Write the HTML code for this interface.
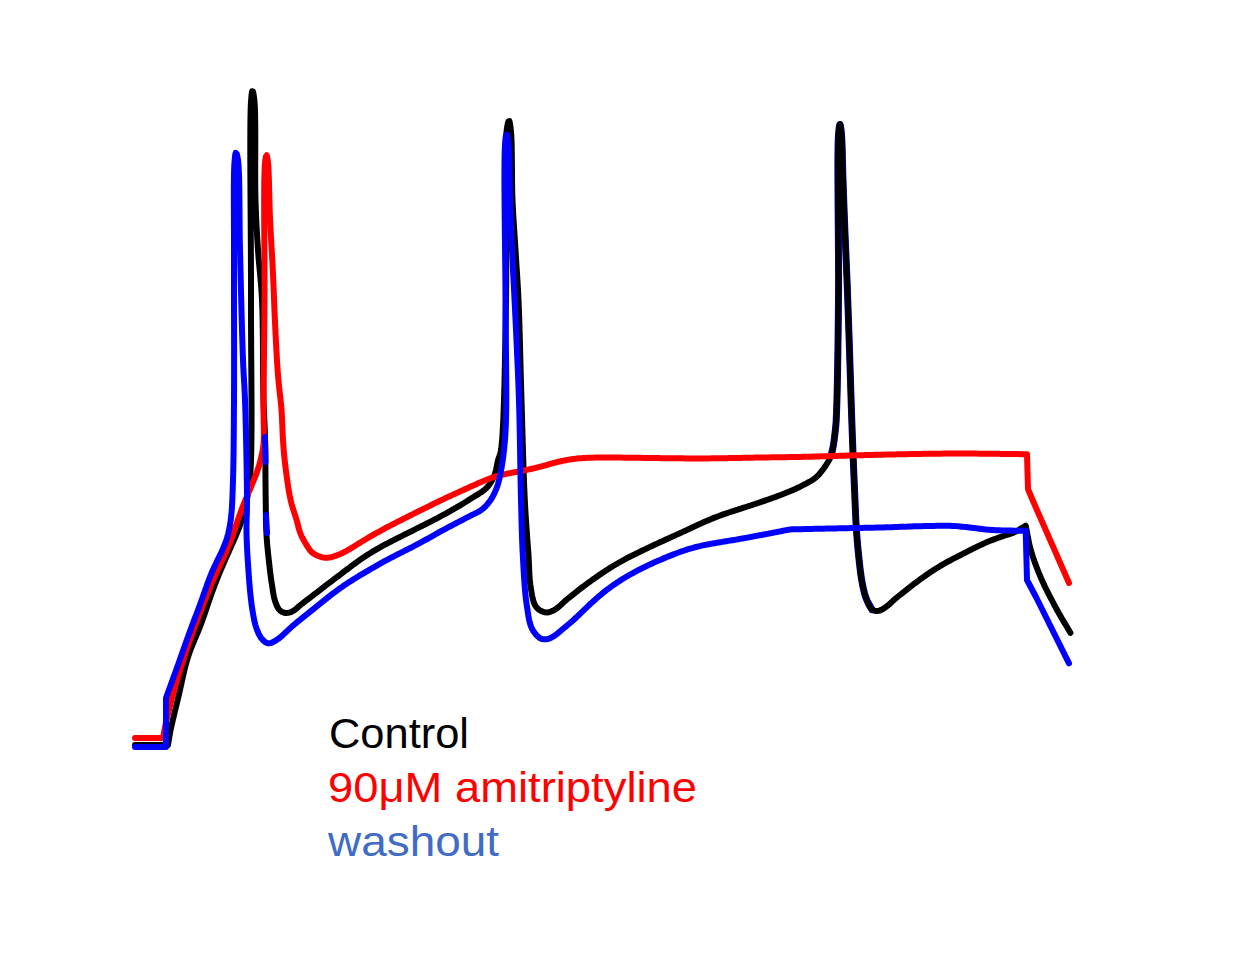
<!DOCTYPE html>
<html><head><meta charset="utf-8">
<style>
html,body{margin:0;padding:0;background:#fff;width:1260px;height:980px;overflow:hidden}
svg{position:absolute;left:0;top:0}
text{font-family:"Liberation Sans",sans-serif}
</style></head>
<body>
<svg width="1260" height="980" viewBox="0 0 1260 980">
<g fill="none" stroke-width="6" stroke-linejoin="round" stroke-linecap="round">
<path stroke="#00f" stroke-width="7" d="M831,456 L831.44,454.05 L831.89,452.1 L832.34,450.15 L832.77,448.2 L833.18,446.24 L833.54,444.28 L833.86,442.3 L834.14,440.32 L834.39,438.34 L834.62,436.35 L834.85,434.36 L835.07,432.38 L835.3,430.39 L835.53,428.4 L835.73,426.41 L835.91,424.42 L836.05,422.43 L836.18,420.43 L836.28,418.44 L836.38,416.44 L836.46,414.44 L836.54,412.44 L836.62,410.44 L836.68,408.45 L836.75,406.45 L836.81,404.45 L836.87,402.45 L836.93,400.45 L836.98,398.45 L837.03,396.45 L837.08,394.45 L837.13,392.45 L837.18,390.45 L837.22,388.46 L837.27,386.46 L837.31,384.46 L837.35,382.46 L837.39,380.46 L837.43,378.46 L837.47,376.46 L837.51,374.46 L837.54,372.46 L837.58,370.46 L837.61,368.46 L837.65,366.46 L837.68,364.46 L837.71,362.46 L837.75,360.46 L837.78,358.47 L837.81,356.47 L837.84,354.47 L837.87,352.47 L837.9,350.47 L837.93,348.47 L837.96,346.47 L837.98,344.47 L838.01,342.47 L838.04,340.47 L838.07,338.47 L838.09,336.47 L838.12,334.47 L838.14,332.47 L838.17,330.47 L838.19,328.47 L838.22,326.47 L838.24,324.47 L838.26,322.47 L838.29,320.47 L838.31,318.48 L838.33,316.48 L838.35,314.48 L838.37,312.48 L838.39,310.48 L838.42,308.48 L838.44,306.48 L838.46,304.48 L838.48,302.48 L838.5,300.48 L838.51,298.48 L838.53,296.48 L838.54,294.48 L838.55,292.48 L838.56,290.48 L838.57,288.48 L838.57,286.48 L838.57,284.48 L838.58,282.48 L838.58,280.48 L838.57,278.48 L838.57,276.48 L838.57,274.48 L838.56,272.48 L838.56,270.48 L838.55,268.48 L838.54,266.48 L838.53,264.48 L838.52,262.49 L838.51,260.49 L838.5,258.49 L838.49,256.49 L838.47,254.49 L838.46,252.49 L838.45,250.49 L838.43,248.49 L838.42,246.49 L838.4,244.49 L838.39,242.49 L838.37,240.49 L838.36,238.49 L838.34,236.49 L838.32,234.49 L838.31,232.49 L838.29,230.49 L838.27,228.49 L838.26,226.49 L838.24,224.49 L838.22,222.49 L838.21,220.49 L838.19,218.49 L838.17,216.49 L838.16,214.49 L838.14,212.49 L838.12,210.49 L838.11,208.49 L838.09,206.5 L838.07,204.5 L838.06,202.5 L838.04,200.5 L838.03,198.5 L838.01,196.5 L838.0,194.5 L837.99,192.5 L837.97,190.5 L837.96,188.5 L837.95,186.5 L837.94,184.5 L837.93,182.5 L837.92,180.5 L837.92,178.5 L837.91,176.5 L837.9,174.5 L837.9,172.5 L837.9,170.5 L837.9,168.5 L837.9,166.5 L837.9,164.5 L837.91,162.5 L837.91,160.5 L837.92,158.5 L837.94,156.5 L837.95,154.5 L837.97,152.5 L838.0,150.5 L838.03,148.51 L838.07,146.51 L838.11,144.51 L838.16,142.51 L838.23,140.51 L838.3,138.51 L838.4,136.51 L838.54,134.52 L838.69,132.53 L838.88,130.53 L839.1,128.55 L839.37,126.57 L839.85,124.63 L840.52,126.18 L840.81,128.16 L841.03,130.15 L841.24,132.14 L841.42,134.13 L841.59,136.12 L841.73,138.12 L841.84,140.11 L841.94,142.11 L842.02,144.11 L842.1,146.11 L842.16,148.11 L842.23,150.1 L842.28,152.1 L842.33,154.1 L842.38,156.1 L842.43,158.1 L842.48,160.1 L842.52,162.1 L842.57,164.1 L842.61,166.1 L842.66,168.1 L842.71,170.1 L842.76,172.09 L842.81,174.09 L842.87,176.09 L842.94,178.09 L843.0,180.09 L843.07,182.09 L843.15,184.09 L843.22,186.09 L843.29,188.08 L843.36,190.08 L843.44,192.08 L843.51,194.08 L843.58,196.08 L843.66,198.08 L843.73,200.07 L843.8,202.07 L843.88,204.07 L843.95,206.07 L844.03,208.07 L844.11,210.06 L844.18,212.06 L844.26,214.06 L844.33,216.06 L844.41,218.06 L844.49,220.06 L844.57,222.05 L844.65,224.05 L844.72,226.05 L844.8,228.05 L844.88,230.05 L844.96,232.04 L845.04,234.04 L845.12,236.04 L845.21,238.04 L845.29,240.04 L845.38,242.03 L845.46,244.03 L845.55,246.03 L845.63,248.03 L845.72,250.03 L845.81,252.02 L845.9,254.02 L845.99,256.02 L846.08,258.02 L846.16,260.01 L846.25,262.01 L846.34,264.01 L846.42,266.01 L846.51,268.01 L846.59,270.0 L846.68,272.0 L846.76,274.0 L846.84,276.0 L846.92,278.0 L847.0,279.99 L847.08,281.99 L847.15,283.99 L847.23,285.99 L847.31,287.99 L847.38,289.99 L847.46,291.98 L847.53,293.98 L847.61,295.98 L847.68,297.98 L847.75,299.98 L847.83,301.98 L847.9,303.97 L847.97,305.97 L848.04,307.97 L848.11,309.97 L848.18,311.97 L848.25,313.97 L848.33,315.96 L848.4,317.96 L848.47,319.96 L848.54,321.96 L848.61,323.96 L848.68,325.96 L848.74,327.96 L848.81,329.95 L848.88,331.95 L848.95,333.95 L849.02,335.95 L849.09,337.95 L849.16,339.95 L849.23,341.94 L849.29,343.94 L849.36,345.94 L849.43,347.94 L849.5,349.94 L849.57,351.94 L849.63,353.94 L849.7,355.93 L849.76,357.93 L849.83,359.93 L849.89,361.93 L849.96,363.93 L850.02,365.93 L850.09,367.93 L850.15,369.93 L850.21,371.92 L850.28,373.92 L850.34,375.92 L850.4,377.92 L850.46,379.92 L850.53,381.92 L850.59,383.92 L850.65,385.91 L850.72,387.91 L850.78,389.91 L850.84,391.91 L850.9,393.91 L850.97,395.91 L851.03,397.91 L851.1,399.91 L851.16,401.9 L851.23,403.9 L851.29,405.9 L851.36,407.9 L851.43,409.9 L851.5,411.9 L851.57,413.9 L851.64,415.89 L851.71,417.89 L851.78,419.89 L851.85,421.89 L851.92,423.89 L851.99,425.89 L852.06,427.88 L852.13,429.88 L852.21,431.88 L852.28,433.88 L852.36,435.88 L852.43,437.88 L852.51,439.87 L852.58,441.87 L852.66,443.87 L852.73,445.87 L852.81,447.87 L852.89,449.87 L852.97,451.86 L853.05,453.86 L853.12,455.86 L853.2,457.86 L853.28,459.86 L853.36,461.85 L853.45,463.85 L853.53,465.85 L853.61,467.85 L853.69,469.85 L853.77,471.84 L853.86,473.84 L853.94,475.84 L854.02,477.84 L854.11,479.84 L854.19,481.83 L854.28,483.83 L854.37,485.83 L854.45,487.83 L854.54,489.83 L854.63,491.82 L854.71,493.82 L854.8,495.82 L854.88,497.82 L854.97,499.81 L855.05,501.81 L855.13,503.81 L855.21,505.81 L855.29,507.81 L855.38,509.8 L855.46,511.8 L855.55,513.8 L855.64,515.8 L855.73,517.8 L855.83,519.79 L855.94,521.79 L856.05,523.79 L856.17,525.78 L856.3,527.78 L856.43,529.77 L856.57,531.77 L856.71,533.76 L856.86,535.76 L857.01,537.75 L857.17,539.74 L857.33,541.74 L857.5,543.73 L857.68,545.72 L857.86,547.71 L858.04,549.7 L858.23,551.7 L858.43,553.69 L858.64,555.67 L858.85,557.66 L859.06,559.65 L859.28,561.64 L859.5,563.63 L859.72,565.61 L859.95,567.6 L860.19,569.59 L860.44,571.57 L860.7,573.55 L860.98,575.53 L861.28,577.51 L861.6,579.48 L861.95,581.45 L862.32,583.42 L862.7,585.38 L863.1,587.34 L863.52,589.3 L863.97,591.24 L864.47,593.18 L865.02,595.1 L865.64,597.0 L866.34,598.88 L867.15,600.7 L868.04,602.49 L869.0,604.25 L869.98,605.99 L870.96,607.74 L871.9,609.5 L871.9,609.5"/>
<path stroke="#000" d="M135,745 L168,745 L168.33,742.98 L168.67,740.89 L169.01,738.79 L169.35,736.7 L169.7,734.65 L170.06,732.65 L170.44,730.69 L170.83,728.77 L171.25,726.87 L171.67,724.99 L172.11,723.11 L172.55,721.23 L172.99,719.34 L173.44,717.44 L173.89,715.54 L174.35,713.62 L174.81,711.69 L175.28,709.76 L175.75,707.83 L176.23,705.89 L176.7,703.96 L177.17,702.01 L177.63,700.07 L178.1,698.13 L178.55,696.18 L179.0,694.24 L179.45,692.29 L179.89,690.34 L180.32,688.39 L180.75,686.44 L181.18,684.49 L181.6,682.53 L182.03,680.58 L182.45,678.63 L182.88,676.68 L183.32,674.73 L183.77,672.78 L184.22,670.84 L184.69,668.9 L185.17,666.96 L185.67,665.04 L186.19,663.11 L186.73,661.2 L187.3,659.29 L187.88,657.39 L188.5,655.5 L189.13,653.62 L189.8,651.74 L190.48,649.88 L191.19,648.02 L191.92,646.17 L192.67,644.33 L193.43,642.49 L194.2,640.65 L194.97,638.82 L195.75,636.99 L196.53,635.16 L197.3,633.32 L198.07,631.48 L198.82,629.64 L199.56,627.79 L200.28,625.93 L201.0,624.07 L201.69,622.2 L202.37,620.33 L203.04,618.45 L203.7,616.57 L204.35,614.68 L204.99,612.79 L205.63,610.9 L206.26,609.0 L206.9,607.11 L207.53,605.21 L208.17,603.32 L208.81,601.43 L209.46,599.53 L210.11,597.65 L210.77,595.76 L211.44,593.88 L212.12,592.0 L212.81,590.12 L213.51,588.25 L214.21,586.38 L214.93,584.51 L215.65,582.65 L216.38,580.79 L217.12,578.93 L217.86,577.07 L218.61,575.22 L219.37,573.37 L220.14,571.53 L220.91,569.68 L221.69,567.84 L222.48,566.0 L223.27,564.17 L224.06,562.33 L224.86,560.5 L225.66,558.67 L226.47,556.84 L227.28,555.01 L228.1,553.19 L228.91,551.36 L229.73,549.54 L230.55,547.71 L231.36,545.89 L232.18,544.06 L232.99,542.24 L233.79,540.41 L234.59,538.58 L235.38,536.75 L236.16,534.91 L236.92,533.07 L237.67,531.22 L238.39,529.37 L239.1,527.51 L239.79,525.64 L240.45,523.76 L241.09,521.88 L241.71,519.99 L242.3,518.09 L242.87,516.18 L243.42,514.26 L243.94,512.34 L244.44,510.41 L244.92,508.48 L245.38,506.54 L245.83,504.6 L246.25,502.65 L246.66,500.7 L247.04,498.74 L247.41,496.78 L247.76,494.81 L248.09,492.85 L248.4,490.88 L248.69,488.9 L248.96,486.93 L249.22,484.95 L249.45,482.97 L249.66,480.99 L249.86,479.0 L250.04,477.01 L250.2,475.02 L250.35,473.03 L250.48,471.04 L250.6,469.05 L250.7,467.05 L250.8,465.06 L250.89,463.06 L250.96,461.06 L251.03,459.06 L251.09,457.07 L251.15,455.07 L251.2,453.07 L251.25,451.07 L251.29,449.07 L251.32,447.07 L251.35,445.07 L251.38,443.07 L251.41,441.07 L251.43,439.07 L251.45,437.07 L251.47,435.07 L251.48,433.07 L251.49,431.08 L251.51,429.08 L251.52,427.08 L251.53,425.08 L251.53,423.08 L251.54,421.08 L251.54,419.08 L251.55,417.08 L251.55,415.08 L251.55,413.08 L251.55,411.08 L251.55,409.08 L251.54,407.08 L251.54,405.08 L251.53,403.08 L251.52,401.08 L251.51,399.08 L251.5,397.08 L251.49,395.08 L251.48,393.08 L251.47,391.08 L251.46,389.08 L251.44,387.08 L251.43,385.08 L251.42,383.08 L251.41,381.08 L251.39,379.08 L251.38,377.08 L251.36,375.08 L251.35,373.08 L251.33,371.08 L251.32,369.08 L251.3,367.08 L251.29,365.08 L251.27,363.08 L251.26,361.08 L251.25,359.08 L251.23,357.08 L251.22,355.08 L251.2,353.08 L251.19,351.08 L251.17,349.09 L251.16,347.09 L251.14,345.09 L251.13,343.09 L251.12,341.09 L251.11,339.09 L251.09,337.09 L251.08,335.09 L251.07,333.09 L251.06,331.09 L251.05,329.09 L251.04,327.09 L251.03,325.09 L251.02,323.09 L251.01,321.09 L251.01,319.09 L251.0,317.09 L251.0,315.09 L250.99,313.09 L250.99,311.09 L250.99,309.09 L250.99,307.09 L250.99,305.09 L250.99,303.09 L251.0,301.09 L251.0,299.09 L251.01,297.09 L251.01,295.09 L251.01,293.09 L251.01,291.09 L251.01,289.09 L251.01,287.09 L251.01,285.09 L251.01,283.09 L251.0,281.09 L251.0,279.09 L250.99,277.09 L250.99,275.09 L250.98,273.09 L250.97,271.09 L250.96,269.09 L250.96,267.09 L250.95,265.09 L250.94,263.09 L250.93,261.09 L250.92,259.09 L250.91,257.1 L250.9,255.1 L250.89,253.1 L250.88,251.1 L250.86,249.1 L250.85,247.1 L250.84,245.1 L250.83,243.1 L250.81,241.1 L250.8,239.1 L250.79,237.1 L250.77,235.1 L250.76,233.1 L250.75,231.1 L250.73,229.1 L250.72,227.1 L250.71,225.1 L250.69,223.1 L250.68,221.1 L250.66,219.1 L250.65,217.1 L250.64,215.1 L250.62,213.1 L250.61,211.1 L250.59,209.1 L250.58,207.1 L250.57,205.1 L250.55,203.1 L250.54,201.1 L250.52,199.1 L250.51,197.1 L250.5,195.1 L250.48,193.1 L250.47,191.1 L250.46,189.1 L250.45,187.1 L250.44,185.1 L250.42,183.1 L250.41,181.1 L250.4,179.1 L250.39,177.1 L250.38,175.11 L250.37,173.11 L250.36,171.11 L250.35,169.11 L250.34,167.11 L250.34,165.11 L250.33,163.11 L250.32,161.11 L250.32,159.11 L250.31,157.11 L250.31,155.11 L250.3,153.11 L250.3,151.11 L250.3,149.11 L250.3,147.11 L250.3,145.11 L250.3,143.11 L250.3,141.11 L250.31,139.11 L250.31,137.11 L250.32,135.11 L250.33,133.11 L250.34,131.11 L250.35,129.11 L250.37,127.11 L250.39,125.11 L250.41,123.11 L250.43,121.11 L250.46,119.11 L250.49,117.11 L250.53,115.11 L250.57,113.11 L250.62,111.11 L250.68,109.12 L250.75,107.12 L250.83,105.12 L250.93,103.12 L251.06,101.13 L251.2,99.13 L251.36,97.14 L251.55,95.15 L251.78,93.16 L252.14,91.19 L253.0,91.54 L253.42,93.5 L253.74,95.47 L254.01,97.45 L254.24,99.44 L254.45,101.43 L254.62,103.42 L254.75,105.41 L254.85,107.41 L254.93,109.41 L255.0,111.41 L255.05,113.41 L255.1,115.41 L255.14,117.41 L255.17,119.41 L255.19,121.41 L255.22,123.41 L255.23,125.4 L255.25,127.4 L255.26,129.4 L255.26,131.4 L255.27,133.4 L255.27,135.4 L255.27,137.4 L255.27,139.4 L255.27,141.4 L255.27,143.4 L255.27,145.4 L255.26,147.4 L255.26,149.4 L255.25,151.4 L255.25,153.4 L255.24,155.4 L255.24,157.4 L255.23,159.4 L255.22,161.4 L255.22,163.4 L255.22,165.4 L255.21,167.4 L255.21,169.4 L255.21,171.4 L255.21,173.4 L255.21,175.4 L255.22,177.4 L255.22,179.4 L255.23,181.4 L255.24,183.4 L255.25,185.4 L255.27,187.4 L255.29,189.4 L255.32,191.4 L255.35,193.4 L255.39,195.4 L255.43,197.4 L255.48,199.39 L255.54,201.39 L255.61,203.39 L255.67,205.39 L255.74,207.39 L255.82,209.39 L255.89,211.39 L255.97,213.38 L256.06,215.38 L256.14,217.38 L256.23,219.38 L256.33,221.38 L256.43,223.37 L256.53,225.37 L256.63,227.37 L256.74,229.36 L256.85,231.36 L256.97,233.36 L257.08,235.35 L257.2,237.35 L257.32,239.35 L257.45,241.34 L257.57,243.34 L257.7,245.33 L257.83,247.33 L257.96,249.33 L258.09,251.32 L258.23,253.32 L258.38,255.31 L258.54,257.3 L258.71,259.3 L258.88,261.29 L259.06,263.28 L259.24,265.27 L259.43,267.26 L259.62,269.25 L259.81,271.24 L259.99,273.24 L260.18,275.23 L260.36,277.22 L260.54,279.21 L260.72,281.2 L260.89,283.19 L261.05,285.19 L261.2,287.18 L261.35,289.18 L261.49,291.17 L261.62,293.17 L261.74,295.16 L261.86,297.16 L261.96,299.16 L262.05,301.15 L262.14,303.15 L262.22,305.15 L262.29,307.15 L262.35,309.15 L262.41,311.15 L262.46,313.15 L262.51,315.14 L262.56,317.14 L262.6,319.14 L262.64,321.14 L262.68,323.14 L262.71,325.14 L262.74,327.14 L262.77,329.14 L262.8,331.14 L262.82,333.14 L262.84,335.14 L262.87,337.14 L262.89,339.14 L262.9,341.14 L262.92,343.14 L262.94,345.14 L262.95,347.14 L262.97,349.14 L262.98,351.14 L262.99,353.14 L263.01,355.14 L263.02,357.14 L263.03,359.14 L263.04,361.14 L263.05,363.14 L263.07,365.14 L263.08,367.14 L263.09,369.13 L263.11,371.13 L263.12,373.13 L263.13,375.13 L263.15,377.13 L263.17,379.13 L263.19,381.13 L263.21,383.13 L263.23,385.13 L263.25,387.13 L263.28,389.13 L263.31,391.13 L263.35,393.13 L263.38,395.13 L263.43,397.13 L263.48,399.13 L263.53,401.13 L263.59,403.13 L263.66,405.13 L263.74,407.12 L263.81,409.12 L263.9,411.12 L263.99,413.12 L264.08,415.12 L264.18,417.11 L264.28,419.11 L264.38,421.11 L264.47,423.11 L264.57,425.1 L264.66,427.1 L264.74,429.1 L264.82,431.1 L264.89,433.1 L264.95,435.09 L265.0,437.09 L265.05,439.09 L265.09,441.09 L265.13,443.09 L265.17,445.09 L265.2,447.09 L265.23,449.09 L265.25,451.09 L265.28,453.09 L265.3,455.09 L265.32,457.09 L265.34,459.09 L265.36,461.09 L265.37,463.09 L265.39,465.09 L265.4,467.09 L265.42,469.09 L265.43,471.09 L265.44,473.09 L265.46,475.09 L265.47,477.09 L265.48,479.09 L265.5,481.09 L265.51,483.09 L265.53,485.09 L265.54,487.08 L265.56,489.08 L265.58,491.08 L265.6,493.08 L265.63,495.08 L265.65,497.08 L265.68,499.08 L265.72,501.08 L265.75,503.08 L265.77,505.08 L265.8,507.08 L265.82,509.08 L265.84,511.08 L265.86,513.08 L265.89,515.08 L265.91,517.08 L265.94,519.08 L265.98,521.08 L266.02,523.08 L266.07,525.08 L266.13,527.08 L266.21,529.07 L266.29,531.07 L266.39,533.07 L266.5,535.07 L266.63,537.06 L266.77,539.06 L266.92,541.05 L267.09,543.04 L267.26,545.04 L267.44,547.03 L267.63,549.02 L267.83,551.01 L268.03,553.0 L268.24,554.99 L268.45,556.98 L268.67,558.96 L268.89,560.95 L269.12,562.94 L269.34,564.92 L269.57,566.91 L269.8,568.9 L270.04,570.88 L270.28,572.87 L270.53,574.85 L270.78,576.84 L271.05,578.82 L271.34,580.8 L271.64,582.77 L271.96,584.75 L272.28,586.72 L272.58,588.7 L272.88,590.68 L273.19,592.65 L273.53,594.62 L273.91,596.59 L274.34,598.54 L274.86,600.47 L275.5,602.36 L276.22,604.23 L277.02,606.06 L277.95,607.83 L279.07,609.49 L280.47,610.91 L282.15,611.99 L284.01,612.7 L285.98,613.01 L287.97,612.88 L289.92,612.42 L291.81,611.67 L293.62,610.71 L295.31,609.54 L296.87,608.2 L298.37,606.84 L299.88,605.53 L301.42,604.28 L302.97,603.06 L304.51,601.86 L306.07,600.67 L307.63,599.49 L309.2,598.3 L310.77,597.11 L312.34,595.91 L313.91,594.7 L315.48,593.48 L317.05,592.26 L318.62,591.03 L320.2,589.81 L321.78,588.59 L323.37,587.37 L324.95,586.15 L326.54,584.94 L328.13,583.73 L329.73,582.53 L331.32,581.32 L332.91,580.11 L334.51,578.91 L336.1,577.7 L337.7,576.5 L339.29,575.29 L340.88,574.08 L342.47,572.87 L344.07,571.66 L345.66,570.45 L347.25,569.24 L348.84,568.04 L350.44,566.83 L352.04,565.64 L353.64,564.45 L355.25,563.26 L356.87,562.09 L358.49,560.93 L360.12,559.78 L361.76,558.64 L363.41,557.52 L365.07,556.41 L366.74,555.31 L368.42,554.23 L370.11,553.17 L371.8,552.12 L373.51,551.09 L375.23,550.07 L376.95,549.06 L378.68,548.07 L380.43,547.1 L382.17,546.13 L383.93,545.18 L385.69,544.24 L387.46,543.3 L389.23,542.38 L391.01,541.46 L392.78,540.55 L394.57,539.65 L396.35,538.75 L398.14,537.85 L399.93,536.96 L401.72,536.06 L403.51,535.17 L405.3,534.28 L407.09,533.39 L408.88,532.5 L410.67,531.61 L412.45,530.72 L414.24,529.82 L416.03,528.93 L417.82,528.04 L419.61,527.14 L421.4,526.24 L423.18,525.35 L424.97,524.45 L426.76,523.55 L428.54,522.64 L430.32,521.73 L432.1,520.82 L433.87,519.9 L435.65,518.98 L437.42,518.05 L439.18,517.11 L440.94,516.17 L442.7,515.22 L444.45,514.26 L446.2,513.29 L447.94,512.31 L449.68,511.33 L451.42,510.34 L453.15,509.35 L454.88,508.35 L456.61,507.35 L458.33,506.34 L460.05,505.32 L461.76,504.3 L463.47,503.27 L465.17,502.23 L466.86,501.18 L468.54,500.12 L470.22,499.06 L471.89,498.0 L473.57,496.95 L475.26,495.91 L476.95,494.88 L478.66,493.85 L480.35,492.8 L482.02,491.69 L483.62,490.5 L485.15,489.2 L486.59,487.82 L487.94,486.35 L489.19,484.79 L490.33,483.15 L491.39,481.45 L492.39,479.72 L493.31,477.94 L494.15,476.13 L494.86,474.26 L495.44,472.35 L495.92,470.41 L496.34,468.45 L496.72,466.49 L497.09,464.52 L497.49,462.56 L497.94,460.61 L498.52,458.7 L499.2,456.82 L499.87,454.94 L500.41,453.01 L500.82,451.05 L501.14,449.08 L501.4,447.1 L501.63,445.11 L501.82,443.12 L502.0,441.13 L502.17,439.14 L502.32,437.14 L502.45,435.15 L502.58,433.15 L502.71,431.15 L502.82,429.16 L502.93,427.16 L503.03,425.16 L503.13,423.17 L503.22,421.17 L503.31,419.17 L503.4,417.17 L503.48,415.18 L503.56,413.18 L503.63,411.18 L503.7,409.18 L503.77,407.18 L503.84,405.18 L503.91,403.18 L503.97,401.19 L504.03,399.19 L504.09,397.19 L504.15,395.19 L504.21,393.19 L504.26,391.19 L504.31,389.19 L504.37,387.19 L504.42,385.19 L504.47,383.19 L504.51,381.19 L504.56,379.2 L504.61,377.2 L504.65,375.2 L504.7,373.2 L504.74,371.2 L504.78,369.2 L504.82,367.2 L504.86,365.2 L504.9,363.2 L504.94,361.2 L504.98,359.2 L505.02,357.2 L505.06,355.2 L505.09,353.2 L505.13,351.2 L505.16,349.2 L505.2,347.21 L505.24,345.21 L505.27,343.21 L505.3,341.21 L505.34,339.21 L505.37,337.21 L505.41,335.21 L505.44,333.21 L505.47,331.21 L505.51,329.21 L505.54,327.21 L505.57,325.21 L505.61,323.21 L505.64,321.21 L505.67,319.21 L505.7,317.21 L505.74,315.21 L505.77,313.21 L505.8,311.21 L505.84,309.21 L505.87,307.21 L505.91,305.22 L505.94,303.22 L505.98,301.22 L506.01,299.22 L506.05,297.22 L506.08,295.22 L506.1,293.22 L506.12,291.22 L506.14,289.22 L506.16,287.22 L506.17,285.22 L506.18,283.22 L506.19,281.22 L506.2,279.22 L506.2,277.22 L506.21,275.22 L506.21,273.22 L506.21,271.22 L506.2,269.22 L506.2,267.22 L506.19,265.22 L506.19,263.22 L506.18,261.22 L506.17,259.22 L506.16,257.22 L506.15,255.22 L506.13,253.22 L506.12,251.22 L506.11,249.22 L506.09,247.22 L506.08,245.22 L506.06,243.22 L506.04,241.22 L506.02,239.22 L506.01,237.22 L505.99,235.23 L505.97,233.23 L505.95,231.23 L505.93,229.23 L505.91,227.23 L505.89,225.23 L505.87,223.23 L505.85,221.23 L505.83,219.23 L505.81,217.23 L505.78,215.23 L505.76,213.23 L505.74,211.23 L505.72,209.23 L505.7,207.23 L505.68,205.23 L505.66,203.23 L505.64,201.23 L505.63,199.23 L505.61,197.23 L505.59,195.23 L505.57,193.23 L505.56,191.23 L505.54,189.23 L505.53,187.23 L505.52,185.23 L505.5,183.23 L505.49,181.23 L505.48,179.23 L505.48,177.23 L505.47,175.23 L505.47,173.23 L505.46,171.23 L505.46,169.23 L505.47,167.23 L505.47,165.23 L505.48,163.23 L505.49,161.24 L505.5,159.24 L505.52,157.24 L505.54,155.24 L505.57,153.24 L505.6,151.24 L505.64,149.24 L505.69,147.24 L505.74,145.24 L505.81,143.24 L505.88,141.24 L505.97,139.24 L506.08,137.25 L506.21,135.25 L506.37,133.26 L506.58,131.27 L506.83,129.29 L507.11,127.31 L507.45,125.33 L507.85,123.37 L508.38,121.45 L509.44,121.16 L509.9,123.11 L510.21,125.08 L510.47,127.06 L510.7,129.05 L510.9,131.04 L511.09,133.03 L511.24,135.03 L511.36,137.02 L511.45,139.02 L511.53,141.02 L511.59,143.02 L511.65,145.02 L511.7,147.01 L511.74,149.01 L511.77,151.01 L511.8,153.01 L511.83,155.01 L511.85,157.01 L511.87,159.01 L511.89,161.01 L511.91,163.01 L511.93,165.01 L511.94,167.01 L511.96,169.01 L511.97,171.01 L511.99,173.01 L512.01,175.01 L512.02,177.01 L512.04,179.01 L512.07,181.01 L512.09,183.01 L512.12,185.01 L512.15,187.01 L512.19,189.01 L512.23,191.01 L512.28,193.01 L512.33,195.01 L512.39,197.0 L512.46,199.0 L512.54,201.0 L512.63,203.0 L512.72,205.0 L512.82,206.99 L512.92,208.99 L513.03,210.99 L513.14,212.98 L513.25,214.98 L513.37,216.98 L513.49,218.97 L513.61,220.97 L513.74,222.97 L513.87,224.96 L514.0,226.96 L514.13,228.95 L514.26,230.95 L514.4,232.94 L514.53,234.94 L514.66,236.93 L514.8,238.93 L514.93,240.92 L515.06,242.92 L515.19,244.92 L515.31,246.91 L515.43,248.91 L515.55,250.9 L515.68,252.9 L515.8,254.9 L515.93,256.89 L516.06,258.89 L516.19,260.88 L516.32,262.88 L516.45,264.87 L516.58,266.87 L516.71,268.86 L516.85,270.86 L516.98,272.86 L517.11,274.85 L517.23,276.85 L517.36,278.84 L517.48,280.84 L517.6,282.83 L517.72,284.83 L517.83,286.83 L517.94,288.82 L518.05,290.82 L518.15,292.82 L518.25,294.82 L518.35,296.81 L518.45,298.81 L518.54,300.81 L518.62,302.81 L518.71,304.8 L518.79,306.8 L518.86,308.8 L518.94,310.8 L519.01,312.8 L519.08,314.8 L519.15,316.79 L519.22,318.79 L519.29,320.79 L519.35,322.79 L519.41,324.79 L519.48,326.79 L519.54,328.79 L519.6,330.79 L519.65,332.79 L519.71,334.78 L519.77,336.78 L519.83,338.78 L519.88,340.78 L519.94,342.78 L519.99,344.78 L520.04,346.78 L520.1,348.78 L520.15,350.78 L520.2,352.78 L520.25,354.77 L520.31,356.77 L520.36,358.77 L520.41,360.77 L520.46,362.77 L520.52,364.77 L520.57,366.77 L520.62,368.77 L520.67,370.77 L520.73,372.77 L520.78,374.77 L520.83,376.77 L520.89,378.76 L520.94,380.76 L520.99,382.76 L521.05,384.76 L521.11,386.76 L521.16,388.76 L521.22,390.76 L521.28,392.76 L521.34,394.76 L521.4,396.76 L521.46,398.75 L521.52,400.75 L521.59,402.75 L521.65,404.75 L521.71,406.75 L521.77,408.75 L521.83,410.75 L521.89,412.75 L521.94,414.74 L522.0,416.74 L522.06,418.74 L522.12,420.74 L522.17,422.74 L522.23,424.74 L522.29,426.74 L522.35,428.74 L522.4,430.74 L522.46,432.74 L522.52,434.73 L522.57,436.73 L522.63,438.73 L522.69,440.73 L522.74,442.73 L522.8,444.73 L522.86,446.73 L522.92,448.73 L522.98,450.73 L523.04,452.73 L523.1,454.72 L523.16,456.72 L523.22,458.72 L523.28,460.72 L523.35,462.72 L523.41,464.72 L523.48,466.72 L523.54,468.72 L523.61,470.71 L523.68,472.71 L523.75,474.71 L523.82,476.71 L523.89,478.71 L523.97,480.71 L524.04,482.71 L524.12,484.7 L524.2,486.7 L524.29,488.7 L524.37,490.7 L524.46,492.7 L524.55,494.69 L524.64,496.69 L524.74,498.69 L524.83,500.69 L524.94,502.68 L525.04,504.68 L525.15,506.68 L525.27,508.67 L525.38,510.67 L525.51,512.67 L525.63,514.66 L525.75,516.66 L525.88,518.65 L526.02,520.65 L526.15,522.64 L526.29,524.64 L526.42,526.63 L526.56,528.63 L526.71,530.62 L526.85,532.62 L526.99,534.61 L527.14,536.61 L527.28,538.6 L527.43,540.6 L527.58,542.59 L527.72,544.59 L527.87,546.58 L528.01,548.57 L528.16,550.57 L528.3,552.56 L528.44,554.56 L528.57,556.55 L528.7,558.55 L528.81,560.55 L528.91,562.54 L528.99,564.54 L529.07,566.54 L529.15,568.54 L529.22,570.54 L529.31,572.54 L529.4,574.53 L529.52,576.53 L529.66,578.52 L529.84,580.52 L530.05,582.5 L530.31,584.49 L530.62,586.46 L530.93,588.44 L531.23,590.42 L531.54,592.39 L531.87,594.36 L532.23,596.33 L532.65,598.29 L533.14,600.23 L533.72,602.14 L534.45,604.0 L535.37,605.77 L536.55,607.38 L537.96,608.8 L539.53,610.03 L541.26,611.04 L543.1,611.82 L545.04,612.31 L547.03,612.44 L549.01,612.17 L550.92,611.61 L552.77,610.81 L554.54,609.81 L556.25,608.7 L557.9,607.51 L559.44,606.21 L560.93,604.86 L562.39,603.5 L563.84,602.16 L565.31,600.86 L566.8,599.58 L568.31,598.32 L569.84,597.08 L571.38,595.85 L572.93,594.62 L574.49,593.39 L576.04,592.15 L577.6,590.92 L579.16,589.69 L580.73,588.46 L582.32,587.25 L583.9,586.04 L585.5,584.85 L587.11,583.66 L588.72,582.48 L590.34,581.31 L591.96,580.15 L593.59,578.99 L595.22,577.84 L596.86,576.7 L598.51,575.56 L600.15,574.43 L601.81,573.31 L603.47,572.2 L605.13,571.1 L606.8,570.01 L608.48,568.93 L610.17,567.86 L611.86,566.81 L613.57,565.77 L615.28,564.74 L617.0,563.73 L618.73,562.73 L620.47,561.75 L622.21,560.79 L623.97,559.83 L625.73,558.89 L627.49,557.96 L629.27,557.04 L631.05,556.13 L632.83,555.23 L634.62,554.34 L636.41,553.45 L638.2,552.57 L640.0,551.69 L641.8,550.82 L643.6,549.96 L645.4,549.09 L647.21,548.23 L649.02,547.38 L650.83,546.53 L652.64,545.68 L654.45,544.83 L656.26,543.99 L658.08,543.15 L659.89,542.31 L661.71,541.48 L663.53,540.65 L665.35,539.82 L667.17,538.99 L668.99,538.16 L670.81,537.34 L672.63,536.51 L674.45,535.69 L676.28,534.86 L678.1,534.04 L679.91,533.21 L681.73,532.38 L683.55,531.54 L685.36,530.71 L687.18,529.86 L688.99,529.02 L690.8,528.18 L692.61,527.33 L694.42,526.48 L696.23,525.64 L698.04,524.8 L699.86,523.96 L701.67,523.13 L703.49,522.31 L705.31,521.5 L707.14,520.7 L708.98,519.92 L710.82,519.15 L712.67,518.4 L714.52,517.66 L716.38,516.94 L718.25,516.23 L720.12,515.54 L722.0,514.86 L723.88,514.2 L725.77,513.55 L727.66,512.91 L729.55,512.27 L731.45,511.65 L733.35,511.03 L735.25,510.41 L737.16,509.8 L739.06,509.19 L740.96,508.58 L742.87,507.97 L744.77,507.36 L746.67,506.74 L748.58,506.13 L750.48,505.51 L752.38,504.88 L754.27,504.25 L756.17,503.62 L758.06,502.98 L759.96,502.34 L761.85,501.69 L763.74,501.04 L765.63,500.38 L767.51,499.72 L769.4,499.06 L771.29,498.39 L773.17,497.72 L775.05,497.05 L776.93,496.36 L778.8,495.68 L780.68,494.98 L782.54,494.27 L784.41,493.56 L786.26,492.83 L788.11,492.08 L789.95,491.32 L791.78,490.54 L793.6,489.74 L795.4,488.91 L797.19,488.06 L798.97,487.2 L800.75,486.33 L802.52,485.44 L804.28,484.55 L806.04,483.63 L807.8,482.7 L809.54,481.74 L811.26,480.74 L812.95,479.67 L814.58,478.51 L816.13,477.26 L817.6,475.9 L818.98,474.46 L820.28,472.94 L821.52,471.37 L822.72,469.78 L823.89,468.16 L825.05,466.52 L826.17,464.87 L827.26,463.19 L828.3,461.49 L829.28,459.74 L830.17,457.95 L830.96,456.11 L831.61,454.22 L832.12,452.29 L832.53,450.33 L832.87,448.36 L833.19,446.39 L833.51,444.41 L833.83,442.44 L834.12,440.46 L834.37,438.48 L834.61,436.49 L834.83,434.5 L835.05,432.52 L835.29,430.53 L835.51,428.54 L835.72,426.55 L835.9,424.56 L836.04,422.57 L836.17,420.57 L836.28,418.57 L836.37,416.58 L836.46,414.58 L836.54,412.58 L836.61,410.58 L836.68,408.58 L836.75,406.59 L836.81,404.59 L836.87,402.59 L836.92,400.59 L836.98,398.59 L837.03,396.59 L837.08,394.59 L837.13,392.59 L837.17,390.59 L837.22,388.59 L837.26,386.59 L837.31,384.59 L837.35,382.6 L837.39,380.6 L837.43,378.6 L837.47,376.6 L837.5,374.6 L837.54,372.6 L837.58,370.6 L837.61,368.6 L837.65,366.6 L837.68,364.6 L837.71,362.6 L837.74,360.6 L837.78,358.6 L837.81,356.6 L837.84,354.6 L837.87,352.6 L837.9,350.6 L837.93,348.6 L837.95,346.6 L837.98,344.6 L838.01,342.61 L838.04,340.61 L838.06,338.61 L838.09,336.61 L838.12,334.61 L838.14,332.61 L838.17,330.61 L838.19,328.61 L838.21,326.61 L838.24,324.61 L838.26,322.61 L838.28,320.61 L838.31,318.61 L838.33,316.61 L838.35,314.61 L838.37,312.61 L838.39,310.61 L838.41,308.61 L838.43,306.61 L838.45,304.61 L838.47,302.61 L838.49,300.61 L838.51,298.61 L838.53,296.61 L838.54,294.61 L838.55,292.61 L838.56,290.61 L838.57,288.61 L838.57,286.61 L838.58,284.61 L838.58,282.61 L838.58,280.61 L838.58,278.61 L838.58,276.61 L838.57,274.62 L838.57,272.62 L838.56,270.62 L838.55,268.62 L838.55,266.62 L838.54,264.62 L838.53,262.62 L838.52,260.62 L838.51,258.62 L838.5,256.62 L838.49,254.62 L838.47,252.62 L838.46,250.62 L838.45,248.62 L838.43,246.62 L838.42,244.62 L838.41,242.62 L838.39,240.62 L838.38,238.62 L838.36,236.62 L838.34,234.62 L838.33,232.62 L838.31,230.62 L838.3,228.62 L838.28,226.62 L838.26,224.62 L838.25,222.62 L838.23,220.62 L838.21,218.62 L838.2,216.62 L838.18,214.62 L838.17,212.62 L838.15,210.62 L838.13,208.62 L838.12,206.62 L838.1,204.62 L838.09,202.62 L838.07,200.62 L838.06,198.62 L838.05,196.62 L838.03,194.63 L838.02,192.63 L838.01,190.63 L838.0,188.63 L837.99,186.63 L837.98,184.63 L837.97,182.63 L837.96,180.63 L837.95,178.63 L837.94,176.63 L837.94,174.63 L837.94,172.63 L837.93,170.63 L837.93,168.63 L837.93,166.63 L837.94,164.63 L837.94,162.63 L837.95,160.63 L837.96,158.63 L837.97,156.63 L837.99,154.63 L838.01,152.63 L838.03,150.63 L838.06,148.63 L838.09,146.63 L838.13,144.63 L838.18,142.63 L838.24,140.63 L838.31,138.64 L838.41,136.64 L838.52,134.64 L838.67,132.65 L838.83,130.65 L839.02,128.66 L839.25,126.68 L839.56,124.7 L840.28,124.11 L840.62,126.07 L840.86,128.06 L841.07,130.05 L841.25,132.04 L841.42,134.03 L841.58,136.03 L841.71,138.02 L841.82,140.02 L841.92,142.02 L842.0,144.01 L842.07,146.01 L842.14,148.01 L842.2,150.01 L842.26,152.01 L842.31,154.01 L842.36,156.01 L842.41,158.01 L842.46,160.01 L842.51,162.01 L842.56,164.0 L842.6,166.0 L842.65,168.0 L842.7,170.0 L842.75,172.0 L842.81,174.0 L842.87,176.0 L842.93,178.0 L843.0,180.0 L843.07,182.0 L843.14,183.99 L843.21,185.99 L843.29,187.99 L843.36,189.99 L843.43,191.99 L843.51,193.99 L843.58,195.98 L843.65,197.98 L843.73,199.98 L843.8,201.98 L843.88,203.98 L843.95,205.98 L844.03,207.98 L844.1,209.97 L844.18,211.97 L844.25,213.97 L844.33,215.97 L844.41,217.97 L844.49,219.97 L844.56,221.96 L844.64,223.96 L844.72,225.96 L844.8,227.96 L844.88,229.96 L844.96,231.95 L845.04,233.95 L845.12,235.95 L845.2,237.95 L845.29,239.95 L845.37,241.95 L845.46,243.94 L845.54,245.94 L845.63,247.94 L845.72,249.94 L845.81,251.93 L845.89,253.93 L845.98,255.93 L846.07,257.93 L846.16,259.93 L846.25,261.92 L846.33,263.92 L846.42,265.92 L846.51,267.92 L846.59,269.92 L846.67,271.91 L846.76,273.91 L846.84,275.91 L846.92,277.91 L847.0,279.91 L847.07,281.9 L847.15,283.9 L847.23,285.9 L847.3,287.9 L847.38,289.9 L847.45,291.9 L847.53,293.89 L847.6,295.89 L847.68,297.89 L847.75,299.89 L847.82,301.89 L847.89,303.89 L847.97,305.89 L848.04,307.88 L848.11,309.88 L848.18,311.88 L848.25,313.88 L848.32,315.88 L848.39,317.88 L848.46,319.88 L848.53,321.87 L848.6,323.87 L848.67,325.87 L848.74,327.87 L848.81,329.87 L848.88,331.87 L848.95,333.87 L849.02,335.86 L849.09,337.86 L849.15,339.86 L849.22,341.86 L849.29,343.86 L849.36,345.86 L849.43,347.86 L849.5,349.85 L849.56,351.85 L849.63,353.85 L849.7,355.85 L849.76,357.85 L849.83,359.85 L849.89,361.85 L849.96,363.85 L850.02,365.84 L850.08,367.84 L850.15,369.84 L850.21,371.84 L850.27,373.84 L850.34,375.84 L850.4,377.84 L850.46,379.84 L850.52,381.83 L850.59,383.83 L850.65,385.83 L850.71,387.83 L850.78,389.83 L850.84,391.83 L850.9,393.83 L850.97,395.83 L851.03,397.83 L851.09,399.82 L851.16,401.82 L851.22,403.82 L851.29,405.82 L851.36,407.82 L851.43,409.82 L851.49,411.82 L851.56,413.81 L851.63,415.81 L851.7,417.81 L851.77,419.81 L851.84,421.81 L851.91,423.81 L851.99,425.81 L852.06,427.8 L852.13,429.8 L852.2,431.8 L852.28,433.8 L852.35,435.8 L852.43,437.8 L852.5,439.8 L852.58,441.79 L852.65,443.79 L852.73,445.79 L852.81,447.79 L852.89,449.79 L852.96,451.79 L853.04,453.78 L853.12,455.78 L853.2,457.78 L853.28,459.78 L853.36,461.78 L853.44,463.77 L853.52,465.77 L853.61,467.77 L853.69,469.77 L853.77,471.77 L853.85,473.76 L853.94,475.76 L854.02,477.76 L854.11,479.76 L854.19,481.76 L854.28,483.75 L854.36,485.75 L854.45,487.75 L854.54,489.75 L854.62,491.75 L854.71,493.74 L854.8,495.74 L854.88,497.74 L854.96,499.74 L855.05,501.74 L855.13,503.73 L855.21,505.73 L855.29,507.73 L855.37,509.73 L855.46,511.73 L855.55,513.72 L855.64,515.72 L855.73,517.72 L855.83,519.72 L855.94,521.71 L856.05,523.71 L856.17,525.71 L856.29,527.7 L856.43,529.7 L856.56,531.69 L856.71,533.69 L856.85,535.68 L857.01,537.68 L857.16,539.67 L857.33,541.66 L857.5,543.66 L857.67,545.65 L857.85,547.64 L858.03,549.63 L858.23,551.62 L858.42,553.61 L858.63,555.6 L858.84,557.59 L859.06,559.58 L859.27,561.57 L859.49,563.55 L859.71,565.54 L859.94,567.53 L860.18,569.51 L860.43,571.5 L860.7,573.48 L860.97,575.46 L861.27,577.44 L861.59,579.41 L861.94,581.38 L862.31,583.35 L862.69,585.31 L863.08,587.27 L863.5,589.23 L863.95,591.17 L864.45,593.11 L865.0,595.03 L865.62,596.94 L866.3,598.81 L867.0,600.69 L867.73,602.55 L868.52,604.39 L869.4,606.18 L870.45,607.89 L871.76,609.38 L873.45,610.44 L875.37,610.98 L877.37,611.02 L879.32,610.64 L881.19,609.91 L882.96,608.99 L884.68,607.89 L886.34,606.69 L887.95,605.44 L889.49,604.11 L890.97,602.74 L892.43,601.38 L893.89,600.04 L895.37,598.74 L896.87,597.47 L898.39,596.22 L899.94,595.0 L901.49,593.78 L903.05,592.56 L904.61,591.33 L906.17,590.1 L907.73,588.86 L909.3,587.63 L910.88,586.4 L912.45,585.18 L914.04,583.97 L915.63,582.76 L917.23,581.56 L918.83,580.37 L920.44,579.19 L922.06,578.02 L923.69,576.85 L925.32,575.7 L926.95,574.56 L928.6,573.43 L930.25,572.31 L931.92,571.21 L933.59,570.12 L935.27,569.04 L936.96,567.98 L938.66,566.94 L940.37,565.91 L942.09,564.9 L943.82,563.91 L945.56,562.93 L947.3,561.96 L949.06,561.01 L950.82,560.07 L952.58,559.13 L954.35,558.21 L956.12,557.29 L957.9,556.37 L959.68,555.46 L961.45,554.55 L963.23,553.64 L965.01,552.73 L966.79,551.82 L968.57,550.91 L970.35,550.01 L972.13,549.11 L973.91,548.21 L975.7,547.33 L977.48,546.45 L979.28,545.59 L981.08,544.75 L982.89,543.92 L984.7,543.12 L986.52,542.34 L988.35,541.57 L990.19,540.83 L992.03,540.11 L993.87,539.41 L995.72,538.73 L997.56,538.05 L999.39,537.38 L1001.22,536.73 L1003.04,536.1 L1004.87,535.5 L1006.69,534.93 L1008.53,534.37 L1010.36,533.78 L1012.19,533.13 L1014.01,532.38 L1015.82,531.53 L1017.63,530.58 L1019.44,529.53 L1021.25,528.43 L1023.05,527.31 L1024.83,526.22 L1025.7,525.7 L1026.1,527.66 L1026.48,529.62 L1026.85,531.58 L1027.21,533.55 L1027.57,535.51 L1027.94,537.48 L1028.32,539.44 L1028.72,541.4 L1029.13,543.35 L1029.58,545.3 L1030.06,547.24 L1030.57,549.17 L1031.12,551.09 L1031.69,553.01 L1032.28,554.91 L1032.9,556.82 L1033.53,558.71 L1034.18,560.6 L1034.85,562.48 L1035.53,564.36 L1036.23,566.23 L1036.95,568.1 L1037.67,569.96 L1038.42,571.81 L1039.17,573.66 L1039.94,575.51 L1040.72,577.35 L1041.51,579.18 L1042.33,581.01 L1043.15,582.83 L1044.0,584.64 L1044.85,586.44 L1045.72,588.24 L1046.6,590.04 L1047.5,591.82 L1048.4,593.61 L1049.31,595.39 L1050.22,597.16 L1051.15,598.93 L1052.08,600.7 L1053.01,602.47 L1053.95,604.23 L1054.89,605.99 L1055.84,607.75 L1056.79,609.51 L1057.76,611.26 L1058.74,613.0 L1059.73,614.74 L1060.72,616.47 L1061.73,618.19 L1062.75,619.92 L1063.77,621.63 L1064.79,623.35 L1065.82,625.06 L1066.84,626.78 L1067.86,628.5 L1068.88,630.22 L1069.9,631.94 L1070.4,632.8"/>
<path stroke="#f00" d="M135,738 L163,738 L163.37,735.98 L163.75,733.91 L164.14,731.81 L164.52,729.74 L164.92,727.7 L165.32,725.7 L165.73,723.75 L166.16,721.83 L166.59,719.94 L167.02,718.06 L167.47,716.18 L167.92,714.31 L168.38,712.42 L168.84,710.53 L169.31,708.62 L169.78,706.71 L170.27,704.79 L170.76,702.87 L171.26,700.94 L171.77,699.01 L172.29,697.09 L172.81,695.16 L173.34,693.23 L173.87,691.31 L174.41,689.38 L174.95,687.46 L175.5,685.54 L176.05,683.62 L176.61,681.7 L177.17,679.78 L177.73,677.86 L178.3,675.95 L178.88,674.03 L179.45,672.12 L180.03,670.21 L180.62,668.3 L181.21,666.39 L181.81,664.48 L182.41,662.57 L183.01,660.67 L183.62,658.77 L184.24,656.86 L184.86,654.96 L185.48,653.07 L186.12,651.17 L186.75,649.28 L187.4,647.39 L188.05,645.5 L188.7,643.61 L189.36,641.72 L190.03,639.84 L190.7,637.95 L191.37,636.07 L192.05,634.19 L192.74,632.32 L193.42,630.44 L194.12,628.56 L194.81,626.69 L195.51,624.82 L196.21,622.95 L196.92,621.08 L197.63,619.21 L198.34,617.34 L199.05,615.47 L199.76,613.6 L200.48,611.74 L201.2,609.87 L201.91,608.01 L202.64,606.14 L203.36,604.28 L204.08,602.42 L204.81,600.55 L205.54,598.69 L206.27,596.83 L207.0,594.98 L207.74,593.12 L208.49,591.26 L209.24,589.41 L210.0,587.56 L210.76,585.72 L211.53,583.87 L212.31,582.04 L213.1,580.2 L213.9,578.37 L214.7,576.54 L215.52,574.72 L216.34,572.9 L217.18,571.09 L218.02,569.27 L218.86,567.47 L219.72,565.66 L220.57,563.85 L221.43,562.05 L222.28,560.25 L223.13,558.44 L223.98,556.64 L224.82,554.83 L225.65,553.01 L226.46,551.19 L227.27,549.37 L228.05,547.54 L228.82,545.7 L229.56,543.86 L230.29,542.01 L231.0,540.15 L231.69,538.28 L232.37,536.41 L233.03,534.53 L233.67,532.64 L234.31,530.76 L234.94,528.87 L235.57,526.97 L236.19,525.08 L236.82,523.19 L237.45,521.3 L238.09,519.41 L238.74,517.52 L239.4,515.64 L240.08,513.76 L240.76,511.89 L241.46,510.02 L242.17,508.15 L242.89,506.29 L243.63,504.44 L244.37,502.59 L245.13,500.74 L245.89,498.89 L246.67,497.05 L247.44,495.21 L248.23,493.38 L249.01,491.54 L249.8,489.7 L250.58,487.86 L251.36,486.03 L252.13,484.19 L252.9,482.34 L253.66,480.5 L254.4,478.65 L255.13,476.79 L255.84,474.93 L256.54,473.07 L257.21,471.2 L257.85,469.32 L258.47,467.43 L259.06,465.54 L259.61,463.64 L260.13,461.73 L260.61,459.81 L261.07,457.89 L261.52,455.96 L261.95,454.03 L262.35,452.09 L262.71,450.14 L263.02,448.19 L263.29,446.22 L263.5,444.24 L263.65,442.26 L263.77,440.27 L263.84,438.28 L263.88,436.28 L263.89,434.29 L263.88,432.29 L263.86,430.29 L263.83,428.29 L263.79,426.29 L263.76,424.3 L263.72,422.3 L263.68,420.3 L263.64,418.3 L263.61,416.3 L263.57,414.3 L263.54,412.3 L263.52,410.31 L263.5,408.31 L263.49,406.31 L263.48,404.31 L263.48,402.31 L263.5,400.31 L263.52,398.31 L263.54,396.31 L263.56,394.31 L263.58,392.32 L263.6,390.32 L263.62,388.32 L263.64,386.32 L263.66,384.32 L263.68,382.32 L263.7,380.32 L263.73,378.32 L263.75,376.33 L263.77,374.33 L263.79,372.33 L263.82,370.33 L263.84,368.33 L263.86,366.33 L263.88,364.33 L263.9,362.33 L263.93,360.34 L263.95,358.34 L263.97,356.34 L263.99,354.34 L264.02,352.34 L264.04,350.34 L264.06,348.34 L264.08,346.35 L264.1,344.35 L264.12,342.35 L264.14,340.35 L264.16,338.35 L264.18,336.35 L264.2,334.35 L264.22,332.35 L264.24,330.35 L264.26,328.36 L264.28,326.36 L264.3,324.36 L264.32,322.36 L264.34,320.36 L264.36,318.36 L264.37,316.36 L264.39,314.36 L264.41,312.37 L264.42,310.37 L264.44,308.37 L264.45,306.37 L264.47,304.37 L264.48,302.37 L264.5,300.37 L264.51,298.37 L264.52,296.38 L264.53,294.38 L264.53,292.38 L264.54,290.38 L264.54,288.38 L264.54,286.38 L264.54,284.38 L264.53,282.38 L264.53,280.38 L264.53,278.39 L264.52,276.39 L264.51,274.39 L264.51,272.39 L264.5,270.39 L264.49,268.39 L264.48,266.39 L264.47,264.39 L264.46,262.4 L264.45,260.4 L264.44,258.4 L264.42,256.4 L264.41,254.4 L264.4,252.4 L264.39,250.4 L264.38,248.4 L264.36,246.4 L264.35,244.41 L264.34,242.41 L264.33,240.41 L264.31,238.41 L264.3,236.41 L264.29,234.41 L264.28,232.41 L264.27,230.41 L264.26,228.41 L264.25,226.42 L264.24,224.42 L264.23,222.42 L264.22,220.42 L264.21,218.42 L264.2,216.42 L264.2,214.42 L264.19,212.42 L264.19,210.43 L264.18,208.43 L264.18,206.43 L264.18,204.43 L264.18,202.43 L264.18,200.43 L264.18,198.43 L264.19,196.43 L264.2,194.43 L264.2,192.44 L264.22,190.44 L264.23,188.44 L264.25,186.44 L264.27,184.44 L264.29,182.44 L264.32,180.44 L264.36,178.44 L264.4,176.45 L264.45,174.45 L264.5,172.45 L264.57,170.45 L264.65,168.45 L264.75,166.46 L264.88,164.46 L265.05,162.47 L265.27,160.49 L265.53,158.5 L265.88,156.54 L266.7,155.21 L267.2,157.14 L267.52,159.11 L267.78,161.09 L268.01,163.08 L268.2,165.07 L268.35,167.06 L268.47,169.06 L268.57,171.05 L268.66,173.05 L268.74,175.05 L268.81,177.04 L268.88,179.04 L268.94,181.04 L269.0,183.04 L269.05,185.04 L269.1,187.04 L269.15,189.03 L269.2,191.03 L269.25,193.03 L269.3,195.03 L269.34,197.03 L269.39,199.02 L269.44,201.02 L269.5,203.02 L269.55,205.02 L269.61,207.02 L269.67,209.02 L269.73,211.01 L269.8,213.01 L269.87,215.01 L269.96,217.01 L270.05,219.0 L270.14,221.0 L270.23,223.0 L270.33,224.99 L270.43,226.99 L270.54,228.98 L270.64,230.98 L270.75,232.98 L270.86,234.97 L270.97,236.97 L271.08,238.96 L271.19,240.96 L271.31,242.96 L271.42,244.95 L271.53,246.95 L271.65,248.94 L271.76,250.94 L271.88,252.93 L271.99,254.93 L272.1,256.92 L272.21,258.92 L272.32,260.92 L272.43,262.91 L272.54,264.91 L272.64,266.9 L272.75,268.9 L272.85,270.9 L272.95,272.89 L273.04,274.89 L273.13,276.89 L273.22,278.88 L273.31,280.88 L273.4,282.88 L273.48,284.87 L273.56,286.87 L273.64,288.87 L273.72,290.87 L273.8,292.86 L273.87,294.86 L273.95,296.86 L274.02,298.86 L274.1,300.85 L274.18,302.85 L274.26,304.85 L274.33,306.85 L274.41,308.84 L274.5,310.84 L274.58,312.84 L274.67,314.83 L274.76,316.83 L274.85,318.83 L274.94,320.82 L275.04,322.82 L275.14,324.82 L275.24,326.81 L275.33,328.81 L275.43,330.81 L275.53,332.8 L275.63,334.8 L275.72,336.8 L275.82,338.79 L275.92,340.79 L276.03,342.78 L276.13,344.78 L276.23,346.78 L276.34,348.77 L276.45,350.77 L276.56,352.77 L276.67,354.76 L276.78,356.76 L276.9,358.75 L277.02,360.75 L277.15,362.74 L277.27,364.74 L277.4,366.73 L277.54,368.73 L277.68,370.72 L277.83,372.71 L277.98,374.71 L278.14,376.7 L278.31,378.69 L278.49,380.68 L278.69,382.67 L278.89,384.66 L279.1,386.65 L279.31,388.63 L279.53,390.62 L279.75,392.61 L279.98,394.59 L280.2,396.58 L280.42,398.57 L280.63,400.55 L280.84,402.54 L281.03,404.53 L281.21,406.52 L281.38,408.51 L281.54,410.51 L281.67,412.5 L281.8,414.5 L281.91,416.49 L282.01,418.49 L282.1,420.49 L282.19,422.48 L282.27,424.48 L282.34,426.48 L282.42,428.47 L282.5,430.47 L282.59,432.47 L282.68,434.46 L282.78,436.46 L282.9,438.46 L283.03,440.45 L283.17,442.45 L283.31,444.44 L283.45,446.43 L283.6,448.43 L283.75,450.42 L283.92,452.41 L284.09,454.4 L284.28,456.39 L284.48,458.38 L284.7,460.37 L284.92,462.35 L285.16,464.34 L285.4,466.32 L285.64,468.31 L285.89,470.29 L286.14,472.27 L286.4,474.26 L286.66,476.24 L286.93,478.22 L287.2,480.2 L287.48,482.18 L287.77,484.16 L288.07,486.13 L288.38,488.11 L288.71,490.08 L289.04,492.05 L289.39,494.02 L289.76,495.98 L290.16,497.94 L290.58,499.9 L291.03,501.84 L291.53,503.78 L292.07,505.7 L292.64,507.62 L293.23,509.53 L293.85,511.43 L294.47,513.33 L295.1,515.22 L295.72,517.13 L296.31,519.03 L296.87,520.95 L297.39,522.89 L297.87,524.82 L298.36,526.76 L298.87,528.7 L299.44,530.61 L300.09,532.5 L300.83,534.36 L301.63,536.19 L302.49,537.99 L303.42,539.76 L304.4,541.5 L305.43,543.22 L306.47,544.93 L307.51,546.63 L308.59,548.31 L309.76,549.93 L311.06,551.45 L312.51,552.82 L314.14,553.98 L315.88,554.96 L317.7,555.79 L319.57,556.49 L321.48,557.07 L323.44,557.5 L325.41,557.78 L327.41,557.81 L329.39,557.57 L331.34,557.13 L333.26,556.56 L335.16,555.94 L337.05,555.3 L338.92,554.58 L340.75,553.78 L342.55,552.92 L344.34,552.02 L346.11,551.09 L347.87,550.14 L349.6,549.14 L351.31,548.11 L353.02,547.07 L354.71,546.01 L356.4,544.94 L358.1,543.88 L359.8,542.83 L361.51,541.8 L363.22,540.77 L364.93,539.74 L366.65,538.71 L368.37,537.69 L370.09,536.69 L371.82,535.69 L373.56,534.69 L375.29,533.71 L377.04,532.73 L378.78,531.76 L380.53,530.79 L382.28,529.82 L384.03,528.87 L385.79,527.93 L387.55,526.99 L389.32,526.06 L391.09,525.13 L392.87,524.22 L394.65,523.31 L396.43,522.4 L398.21,521.5 L399.99,520.59 L401.78,519.7 L403.57,518.8 L405.35,517.91 L407.14,517.01 L408.93,516.12 L410.72,515.23 L412.51,514.33 L414.29,513.44 L416.08,512.55 L417.87,511.66 L419.66,510.77 L421.45,509.87 L423.24,508.98 L425.03,508.1 L426.82,507.21 L428.61,506.32 L430.41,505.44 L432.2,504.56 L433.99,503.68 L435.79,502.81 L437.59,501.93 L439.39,501.07 L441.19,500.21 L443.0,499.35 L444.81,498.49 L446.62,497.64 L448.43,496.8 L450.24,495.96 L452.05,495.12 L453.87,494.29 L455.69,493.45 L457.51,492.63 L459.32,491.8 L461.14,490.97 L462.96,490.15 L464.78,489.32 L466.6,488.5 L468.42,487.68 L470.24,486.85 L472.06,486.03 L473.88,485.21 L475.7,484.4 L477.52,483.59 L479.35,482.79 L481.17,482.0 L483.0,481.23 L484.84,480.47 L486.67,479.74 L488.52,479.03 L490.37,478.34 L492.24,477.69 L494.11,477.07 L495.99,476.49 L497.88,475.94 L499.78,475.42 L501.69,474.94 L503.61,474.49 L505.54,474.06 L507.48,473.65 L509.42,473.26 L511.37,472.89 L513.32,472.52 L515.27,472.16 L517.23,471.79 L519.18,471.42 L521.14,471.05 L523.09,470.66 L525.04,470.26 L526.99,469.85 L528.94,469.43 L530.89,468.99 L532.83,468.53 L534.77,468.06 L536.7,467.58 L538.64,467.09 L540.57,466.59 L542.49,466.07 L544.42,465.55 L546.34,465.03 L548.27,464.5 L550.19,463.97 L552.11,463.45 L554.04,462.94 L555.96,462.44 L557.89,461.95 L559.82,461.48 L561.76,461.04 L563.7,460.62 L565.64,460.23 L567.59,459.87 L569.55,459.54 L571.51,459.24 L573.47,458.97 L575.44,458.73 L577.42,458.52 L579.4,458.33 L581.38,458.17 L583.36,458.04 L585.35,457.92 L587.34,457.83 L589.34,457.75 L591.33,457.68 L593.32,457.63 L595.32,457.59 L597.32,457.55 L599.31,457.53 L601.31,457.51 L603.31,457.5 L605.31,457.5 L607.31,457.5 L609.31,457.51 L611.3,457.51 L613.3,457.53 L615.3,457.54 L617.3,457.56 L619.3,457.58 L621.3,457.6 L623.3,457.63 L625.29,457.65 L627.29,457.68 L629.29,457.71 L631.29,457.73 L633.29,457.76 L635.29,457.79 L637.29,457.82 L639.29,457.85 L641.28,457.87 L643.28,457.9 L645.28,457.93 L647.28,457.95 L649.28,457.98 L651.28,458.01 L653.28,458.03 L655.27,458.06 L657.27,458.08 L659.27,458.11 L661.27,458.13 L663.27,458.16 L665.27,458.18 L667.27,458.21 L669.27,458.23 L671.26,458.25 L673.26,458.28 L675.26,458.3 L677.26,458.32 L679.26,458.34 L681.26,458.36 L683.26,458.37 L685.26,458.39 L687.25,458.4 L689.25,458.41 L691.25,458.42 L693.25,458.43 L695.25,458.43 L697.25,458.43 L699.25,458.43 L701.25,458.43 L703.24,458.42 L705.24,458.41 L707.24,458.4 L709.24,458.38 L711.24,458.36 L713.24,458.34 L715.24,458.32 L717.23,458.3 L719.23,458.27 L721.23,458.24 L723.23,458.21 L725.23,458.17 L727.23,458.14 L729.23,458.1 L731.22,458.07 L733.22,458.03 L735.22,457.99 L737.22,457.95 L739.22,457.91 L741.22,457.88 L743.22,457.84 L745.21,457.8 L747.21,457.76 L749.21,457.72 L751.21,457.69 L753.21,457.65 L755.21,457.62 L757.21,457.58 L759.2,457.55 L761.2,457.52 L763.2,457.49 L765.2,457.46 L767.2,457.43 L769.2,457.4 L771.2,457.37 L773.19,457.34 L775.19,457.32 L777.19,457.29 L779.19,457.26 L781.19,457.23 L783.19,457.2 L785.19,457.17 L787.18,457.14 L789.18,457.11 L791.18,457.07 L793.18,457.04 L795.18,457.0 L797.18,456.96 L799.18,456.92 L801.17,456.88 L803.17,456.83 L805.17,456.78 L807.17,456.74 L809.17,456.69 L811.17,456.63 L813.16,456.58 L815.16,456.53 L817.16,456.47 L819.16,456.41 L821.16,456.36 L823.15,456.3 L825.15,456.24 L827.15,456.18 L829.15,456.12 L831.15,456.06 L833.14,456.0 L835.14,455.95 L837.14,455.89 L839.14,455.83 L841.14,455.77 L843.13,455.71 L845.13,455.65 L847.13,455.6 L849.13,455.54 L851.13,455.48 L853.12,455.43 L855.12,455.37 L857.12,455.32 L859.12,455.26 L861.12,455.21 L863.11,455.16 L865.11,455.11 L867.11,455.05 L869.11,455.0 L871.11,454.95 L873.11,454.9 L875.1,454.86 L877.1,454.81 L879.1,454.76 L881.1,454.71 L883.1,454.67 L885.1,454.62 L887.09,454.58 L889.09,454.53 L891.09,454.49 L893.09,454.45 L895.09,454.4 L897.09,454.36 L899.08,454.32 L901.08,454.28 L903.08,454.24 L905.08,454.2 L907.08,454.16 L909.08,454.12 L911.07,454.08 L913.07,454.04 L915.07,454.01 L917.07,453.97 L919.07,453.94 L921.07,453.9 L923.07,453.87 L925.06,453.84 L927.06,453.81 L929.06,453.78 L931.06,453.75 L933.06,453.72 L935.06,453.7 L937.06,453.68 L939.06,453.66 L941.05,453.64 L943.05,453.62 L945.05,453.6 L947.05,453.59 L949.05,453.58 L951.05,453.57 L953.05,453.56 L955.05,453.55 L957.04,453.55 L959.04,453.55 L961.04,453.55 L963.04,453.55 L965.04,453.56 L967.04,453.56 L969.04,453.57 L971.04,453.58 L973.03,453.59 L975.03,453.61 L977.03,453.62 L979.03,453.64 L981.03,453.66 L983.03,453.68 L985.02,453.7 L987.02,453.72 L989.01,453.74 L991.0,453.76 L992.99,453.78 L994.97,453.81 L996.94,453.83 L998.9,453.86 L1000.85,453.88 L1002.79,453.9 L1004.73,453.93 L1006.65,453.95 L1008.58,453.98 L1010.52,454.0 L1012.49,454.03 L1014.48,454.06 L1016.52,454.08 L1018.6,454.11 L1020.71,454.13 L1022.84,454.16 L1024.95,454.18 L1027.0,454.2 L1027.0,454.2 L1028,489 L1033,501 L1069,583"/>
<path stroke="#00f" d="M135,747 L166,747 L166,698 L166.7,696.07 L167.42,694.09 L168.14,692.08 L168.87,690.1 L169.58,688.15 L170.27,686.23 L170.95,684.36 L171.63,682.51 L172.29,680.69 L172.95,678.87 L173.6,677.06 L174.26,675.24 L174.92,673.42 L175.58,671.58 L176.25,669.73 L176.92,667.88 L177.59,666.01 L178.26,664.14 L178.93,662.27 L179.6,660.39 L180.27,658.51 L180.94,656.63 L181.6,654.75 L182.27,652.86 L182.93,650.98 L183.6,649.09 L184.26,647.21 L184.93,645.32 L185.59,643.44 L186.26,641.55 L186.93,639.67 L187.6,637.79 L188.28,635.91 L188.96,634.03 L189.65,632.15 L190.34,630.27 L191.03,628.4 L191.73,626.53 L192.43,624.66 L193.14,622.79 L193.84,620.92 L194.56,619.05 L195.27,617.18 L195.98,615.31 L196.69,613.45 L197.4,611.58 L198.1,609.71 L198.8,607.84 L199.5,605.96 L200.19,604.09 L200.87,602.21 L201.55,600.33 L202.23,598.45 L202.89,596.57 L203.56,594.68 L204.22,592.8 L204.88,590.92 L205.54,589.03 L206.21,587.15 L206.88,585.27 L207.56,583.39 L208.25,581.52 L208.95,579.66 L209.67,577.8 L210.4,575.95 L211.15,574.1 L211.92,572.27 L212.71,570.44 L213.52,568.62 L214.35,566.81 L215.19,565.01 L216.05,563.21 L216.91,561.42 L217.78,559.63 L218.66,557.84 L219.53,556.06 L220.39,554.27 L221.25,552.48 L222.08,550.68 L222.89,548.87 L223.67,547.06 L224.42,545.23 L225.14,543.39 L225.81,541.54 L226.45,539.68 L227.04,537.8 L227.59,535.91 L228.09,534.01 L228.55,532.09 L228.98,530.17 L229.38,528.23 L229.75,526.29 L230.09,524.34 L230.39,522.38 L230.67,520.41 L230.92,518.44 L231.15,516.46 L231.36,514.48 L231.54,512.49 L231.71,510.5 L231.85,508.5 L231.98,506.51 L232.09,504.51 L232.19,502.52 L232.28,500.52 L232.37,498.52 L232.45,496.53 L232.52,494.53 L232.59,492.53 L232.66,490.53 L232.73,488.53 L232.79,486.54 L232.86,484.54 L232.92,482.54 L232.98,480.54 L233.04,478.54 L233.1,476.54 L233.16,474.55 L233.21,472.55 L233.26,470.55 L233.3,468.55 L233.34,466.55 L233.38,464.55 L233.42,462.55 L233.45,460.55 L233.49,458.56 L233.52,456.56 L233.55,454.56 L233.58,452.56 L233.6,450.56 L233.63,448.56 L233.65,446.56 L233.67,444.56 L233.69,442.56 L233.71,440.56 L233.73,438.57 L233.75,436.57 L233.77,434.57 L233.78,432.57 L233.8,430.57 L233.82,428.57 L233.83,426.57 L233.84,424.57 L233.86,422.57 L233.87,420.57 L233.88,418.57 L233.9,416.57 L233.91,414.58 L233.92,412.58 L233.93,410.58 L233.95,408.58 L233.96,406.58 L233.97,404.58 L233.98,402.58 L234.0,400.58 L234.01,398.58 L234.02,396.58 L234.03,394.58 L234.04,392.58 L234.05,390.59 L234.05,388.59 L234.06,386.59 L234.07,384.59 L234.07,382.59 L234.08,380.59 L234.08,378.59 L234.08,376.59 L234.09,374.59 L234.09,372.59 L234.09,370.59 L234.09,368.59 L234.09,366.6 L234.09,364.6 L234.09,362.6 L234.09,360.6 L234.09,358.6 L234.09,356.6 L234.09,354.6 L234.09,352.6 L234.09,350.6 L234.09,348.6 L234.08,346.6 L234.08,344.6 L234.08,342.6 L234.08,340.61 L234.07,338.61 L234.07,336.61 L234.07,334.61 L234.07,332.61 L234.06,330.61 L234.06,328.61 L234.05,326.61 L234.05,324.61 L234.05,322.61 L234.04,320.61 L234.04,318.61 L234.04,316.62 L234.03,314.62 L234.03,312.62 L234.03,310.62 L234.02,308.62 L234.02,306.62 L234.01,304.62 L234.01,302.62 L234.01,300.62 L234.0,298.62 L234.0,296.62 L234.0,294.62 L233.99,292.62 L233.99,290.63 L233.99,288.63 L233.99,286.63 L233.98,284.63 L233.98,282.63 L233.98,280.63 L233.98,278.63 L233.98,276.63 L233.98,274.63 L233.98,272.63 L233.98,270.63 L233.98,268.63 L233.98,266.64 L233.98,264.64 L233.98,262.64 L233.98,260.64 L233.98,258.64 L233.99,256.64 L233.99,254.64 L233.99,252.64 L234.0,250.64 L234.0,248.64 L234.01,246.64 L234.01,244.64 L234.01,242.65 L234.01,240.65 L234.0,238.65 L234.0,236.65 L233.99,234.65 L233.99,232.65 L233.98,230.65 L233.97,228.65 L233.96,226.65 L233.95,224.65 L233.94,222.65 L233.93,220.65 L233.92,218.65 L233.91,216.66 L233.9,214.66 L233.9,212.66 L233.89,210.66 L233.88,208.66 L233.87,206.66 L233.86,204.66 L233.85,202.66 L233.85,200.66 L233.84,198.66 L233.84,196.66 L233.84,194.66 L233.84,192.67 L233.84,190.67 L233.84,188.67 L233.85,186.67 L233.86,184.67 L233.88,182.67 L233.89,180.67 L233.92,178.67 L233.95,176.67 L233.98,174.67 L234.02,172.67 L234.08,170.68 L234.14,168.68 L234.22,166.68 L234.32,164.68 L234.45,162.69 L234.61,160.7 L234.79,158.71 L235.0,156.72 L235.27,154.74 L235.74,152.8 L236.74,153.85 L237.25,155.78 L237.64,157.74 L237.96,159.72 L238.21,161.7 L238.4,163.69 L238.55,165.68 L238.68,167.68 L238.78,169.68 L238.87,171.67 L238.95,173.67 L239.02,175.67 L239.08,177.67 L239.13,179.67 L239.18,181.66 L239.22,183.66 L239.26,185.66 L239.29,187.66 L239.32,189.66 L239.35,191.66 L239.37,193.66 L239.4,195.66 L239.42,197.66 L239.44,199.65 L239.45,201.65 L239.47,203.65 L239.49,205.65 L239.5,207.65 L239.52,209.65 L239.53,211.65 L239.54,213.65 L239.56,215.65 L239.57,217.65 L239.59,219.65 L239.6,221.65 L239.62,223.64 L239.64,225.64 L239.65,227.64 L239.67,229.64 L239.69,231.64 L239.72,233.64 L239.74,235.64 L239.77,237.64 L239.8,239.64 L239.83,241.64 L239.86,243.63 L239.9,245.63 L239.94,247.63 L239.99,249.63 L240.04,251.63 L240.09,253.63 L240.14,255.63 L240.19,257.63 L240.24,259.62 L240.28,261.62 L240.33,263.62 L240.38,265.62 L240.43,267.62 L240.48,269.62 L240.53,271.62 L240.58,273.61 L240.62,275.61 L240.67,277.61 L240.72,279.61 L240.77,281.61 L240.82,283.61 L240.87,285.61 L240.92,287.6 L240.97,289.6 L241.02,291.6 L241.07,293.6 L241.12,295.6 L241.17,297.6 L241.22,299.6 L241.27,301.59 L241.32,303.59 L241.37,305.59 L241.42,307.59 L241.47,309.59 L241.52,311.59 L241.58,313.59 L241.63,315.58 L241.68,317.58 L241.74,319.58 L241.79,321.58 L241.85,323.58 L241.9,325.58 L241.96,327.57 L242.01,329.57 L242.07,331.57 L242.13,333.57 L242.19,335.57 L242.25,337.57 L242.31,339.56 L242.37,341.56 L242.43,343.56 L242.5,345.56 L242.56,347.56 L242.63,349.56 L242.69,351.55 L242.76,353.55 L242.83,355.55 L242.91,357.55 L242.98,359.55 L243.06,361.54 L243.14,363.54 L243.23,365.54 L243.33,367.53 L243.43,369.53 L243.53,371.53 L243.64,373.52 L243.76,375.52 L243.87,377.52 L243.99,379.51 L244.11,381.51 L244.23,383.5 L244.34,385.5 L244.45,387.5 L244.55,389.49 L244.65,391.49 L244.74,393.49 L244.83,395.48 L244.91,397.48 L244.98,399.48 L245.05,401.48 L245.12,403.47 L245.18,405.47 L245.24,407.47 L245.31,409.47 L245.37,411.47 L245.42,413.47 L245.48,415.46 L245.54,417.46 L245.59,419.46 L245.64,421.46 L245.69,423.46 L245.75,425.46 L245.8,427.46 L245.85,429.45 L245.89,431.45 L245.94,433.45 L245.99,435.45 L246.03,437.45 L246.08,439.45 L246.12,441.45 L246.17,443.44 L246.21,445.44 L246.25,447.44 L246.29,449.44 L246.33,451.44 L246.37,453.44 L246.41,455.44 L246.45,457.44 L246.49,459.43 L246.53,461.43 L246.56,463.43 L246.6,465.43 L246.63,467.43 L246.66,469.43 L246.7,471.43 L246.73,473.43 L246.76,475.43 L246.79,477.42 L246.81,479.42 L246.84,481.42 L246.86,483.42 L246.89,485.42 L246.91,487.42 L246.93,489.42 L246.95,491.42 L246.97,493.42 L246.98,495.42 L246.99,497.42 L247.0,499.42 L247.0,501.41 L246.99,503.41 L246.97,505.41 L246.95,507.41 L246.91,509.41 L246.86,511.41 L246.81,513.41 L246.75,515.41 L246.68,517.4 L246.62,519.4 L246.57,521.4 L246.52,523.4 L246.49,525.4 L246.47,527.4 L246.47,529.4 L246.48,531.4 L246.51,533.39 L246.56,535.39 L246.61,537.39 L246.68,539.39 L246.76,541.39 L246.84,543.39 L246.93,545.38 L247.02,547.38 L247.12,549.38 L247.23,551.37 L247.34,553.37 L247.46,555.36 L247.58,557.36 L247.7,559.36 L247.83,561.35 L247.96,563.35 L248.09,565.34 L248.22,567.33 L248.35,569.33 L248.49,571.32 L248.63,573.32 L248.77,575.31 L248.92,577.31 L249.07,579.3 L249.22,581.29 L249.38,583.29 L249.55,585.28 L249.72,587.27 L249.9,589.26 L250.09,591.25 L250.29,593.24 L250.49,595.23 L250.71,597.22 L250.94,599.2 L251.17,601.19 L251.42,603.17 L251.67,605.16 L251.95,607.14 L252.25,609.11 L252.57,611.09 L252.91,613.06 L253.26,615.02 L253.62,616.99 L253.98,618.96 L254.38,620.91 L254.82,622.87 L255.32,624.8 L255.9,626.71 L256.56,628.6 L257.26,630.47 L258.01,632.33 L258.83,634.15 L259.75,635.93 L260.8,637.62 L262.05,639.18 L263.44,640.62 L264.97,641.91 L266.69,642.91 L268.62,643.4 L270.59,643.13 L272.45,642.4 L274.21,641.45 L275.9,640.39 L277.56,639.27 L279.21,638.15 L280.78,636.91 L282.27,635.57 L283.7,634.18 L285.14,632.79 L286.62,631.44 L288.09,630.09 L289.56,628.74 L291.04,627.39 L292.53,626.05 L294.04,624.74 L295.57,623.46 L297.12,622.19 L298.68,620.94 L300.24,619.69 L301.8,618.45 L303.36,617.2 L304.92,615.95 L306.48,614.7 L308.04,613.45 L309.59,612.19 L311.14,610.93 L312.7,609.67 L314.25,608.42 L315.81,607.16 L317.36,605.9 L318.92,604.65 L320.47,603.39 L322.03,602.14 L323.59,600.89 L325.15,599.64 L326.71,598.39 L328.27,597.16 L329.85,595.92 L331.42,594.7 L333.01,593.48 L334.6,592.28 L336.19,591.08 L337.8,589.9 L339.42,588.74 L341.05,587.58 L342.68,586.44 L344.33,585.32 L345.99,584.2 L347.65,583.1 L349.33,582.02 L351.01,580.94 L352.69,579.87 L354.39,578.82 L356.09,577.76 L357.79,576.72 L359.49,575.68 L361.2,574.65 L362.92,573.62 L364.63,572.59 L366.35,571.57 L368.07,570.55 L369.79,569.54 L371.51,568.53 L373.24,567.53 L374.98,566.53 L376.71,565.54 L378.45,564.56 L380.2,563.59 L381.95,562.62 L383.7,561.66 L385.46,560.72 L387.22,559.78 L388.99,558.85 L390.76,557.92 L392.53,557.0 L394.31,556.09 L396.09,555.18 L397.87,554.28 L399.66,553.38 L401.44,552.48 L403.23,551.58 L405.01,550.68 L406.8,549.78 L408.58,548.87 L410.36,547.96 L412.13,547.05 L413.91,546.13 L415.68,545.2 L417.44,544.27 L419.21,543.33 L420.97,542.38 L422.72,541.43 L424.47,540.46 L426.22,539.5 L427.97,538.53 L429.71,537.55 L431.45,536.57 L433.19,535.6 L434.94,534.62 L436.68,533.64 L438.42,532.67 L440.17,531.7 L441.92,530.74 L443.68,529.78 L445.43,528.83 L447.19,527.89 L448.96,526.95 L450.73,526.03 L452.5,525.1 L454.27,524.18 L456.04,523.26 L457.81,522.35 L459.58,521.43 L461.35,520.51 L463.11,519.58 L464.87,518.65 L466.63,517.72 L468.39,516.81 L470.17,515.91 L471.95,515.04 L473.75,514.17 L475.55,513.3 L477.34,512.39 L479.08,511.4 L480.75,510.31 L482.37,509.13 L483.91,507.85 L485.36,506.47 L486.72,505.02 L488.03,503.5 L489.26,501.93 L490.43,500.3 L491.52,498.63 L492.53,496.9 L493.47,495.14 L494.35,493.35 L495.18,491.53 L495.96,489.68 L496.69,487.82 L497.38,485.95 L497.99,484.04 L498.54,482.12 L499.03,480.18 L499.47,478.23 L499.89,476.28 L500.28,474.32 L500.66,472.36 L501.04,470.39 L501.41,468.43 L501.76,466.46 L502.09,464.49 L502.4,462.51 L502.7,460.54 L502.97,458.56 L503.23,456.57 L503.48,454.59 L503.71,452.6 L503.93,450.62 L504.14,448.63 L504.35,446.64 L504.54,444.65 L504.72,442.66 L504.89,440.67 L505.05,438.67 L505.2,436.68 L505.33,434.69 L505.45,432.69 L505.56,430.69 L505.66,428.7 L505.75,426.7 L505.84,424.7 L505.91,422.7 L505.98,420.71 L506.04,418.71 L506.09,416.71 L506.13,414.71 L506.17,412.71 L506.2,410.71 L506.23,408.71 L506.25,406.72 L506.26,404.72 L506.28,402.72 L506.29,400.72 L506.29,398.72 L506.29,396.72 L506.3,394.72 L506.29,392.72 L506.29,390.72 L506.28,388.72 L506.28,386.72 L506.27,384.72 L506.26,382.73 L506.24,380.73 L506.23,378.73 L506.22,376.73 L506.2,374.73 L506.18,372.73 L506.17,370.73 L506.15,368.73 L506.13,366.73 L506.11,364.73 L506.09,362.73 L506.07,360.73 L506.05,358.74 L506.03,356.74 L506.0,354.74 L505.98,352.74 L505.96,350.74 L505.94,348.74 L505.91,346.74 L505.89,344.74 L505.87,342.74 L505.85,340.74 L505.82,338.75 L505.8,336.75 L505.78,334.75 L505.76,332.75 L505.74,330.75 L505.72,328.75 L505.7,326.75 L505.68,324.75 L505.66,322.75 L505.64,320.75 L505.62,318.75 L505.6,316.76 L505.59,314.76 L505.57,312.76 L505.56,310.76 L505.55,308.76 L505.53,306.76 L505.52,304.76 L505.51,302.76 L505.5,300.76 L505.5,298.76 L505.49,296.76 L505.48,294.76 L505.46,292.77 L505.45,290.77 L505.44,288.77 L505.42,286.77 L505.41,284.77 L505.39,282.77 L505.37,280.77 L505.35,278.77 L505.34,276.77 L505.32,274.77 L505.3,272.77 L505.28,270.77 L505.26,268.78 L505.23,266.78 L505.21,264.78 L505.19,262.78 L505.17,260.78 L505.15,258.78 L505.13,256.78 L505.1,254.78 L505.08,252.78 L505.06,250.78 L505.04,248.79 L505.01,246.79 L504.99,244.79 L504.97,242.79 L504.94,240.79 L504.92,238.79 L504.9,236.79 L504.88,234.79 L504.85,232.79 L504.83,230.79 L504.81,228.79 L504.79,226.8 L504.77,224.8 L504.75,222.8 L504.73,220.8 L504.71,218.8 L504.69,216.8 L504.67,214.8 L504.65,212.8 L504.63,210.8 L504.61,208.8 L504.59,206.8 L504.58,204.81 L504.56,202.81 L504.54,200.81 L504.53,198.81 L504.51,196.81 L504.5,194.81 L504.49,192.81 L504.48,190.81 L504.47,188.81 L504.46,186.81 L504.45,184.81 L504.45,182.81 L504.44,180.82 L504.44,178.82 L504.44,176.82 L504.44,174.82 L504.44,172.82 L504.45,170.82 L504.46,168.82 L504.47,166.82 L504.48,164.82 L504.5,162.82 L504.52,160.82 L504.55,158.82 L504.58,156.83 L504.62,154.83 L504.67,152.83 L504.73,150.83 L504.8,148.83 L504.89,146.83 L505.01,144.84 L505.15,142.84 L505.31,140.85 L505.5,138.86 L505.73,136.88 L506.08,134.91 L506.94,134.83 L507.38,136.78 L507.71,138.75 L507.99,140.73 L508.24,142.71 L508.47,144.7 L508.66,146.69 L508.8,148.68 L508.92,150.68 L509.02,152.67 L509.1,154.67 L509.17,156.67 L509.23,158.67 L509.29,160.67 L509.33,162.66 L509.37,164.66 L509.41,166.66 L509.44,168.66 L509.47,170.66 L509.5,172.66 L509.53,174.66 L509.56,176.66 L509.58,178.66 L509.61,180.65 L509.64,182.65 L509.67,184.65 L509.7,186.65 L509.73,188.65 L509.76,190.65 L509.8,192.65 L509.85,194.65 L509.9,196.65 L509.96,198.64 L510.02,200.64 L510.09,202.64 L510.16,204.64 L510.23,206.64 L510.3,208.63 L510.37,210.63 L510.45,212.63 L510.52,214.63 L510.6,216.63 L510.67,218.62 L510.75,220.62 L510.83,222.62 L510.91,224.62 L510.99,226.61 L511.07,228.61 L511.15,230.61 L511.24,232.61 L511.32,234.6 L511.41,236.6 L511.49,238.6 L511.58,240.6 L511.67,242.59 L511.76,244.59 L511.85,246.59 L511.94,248.58 L512.03,250.58 L512.12,252.58 L512.21,254.58 L512.31,256.57 L512.41,258.57 L512.5,260.57 L512.6,262.56 L512.71,264.56 L512.81,266.56 L512.91,268.55 L513.02,270.55 L513.12,272.55 L513.22,274.54 L513.33,276.54 L513.44,278.53 L513.54,280.53 L513.65,282.53 L513.75,284.52 L513.86,286.52 L513.96,288.52 L514.07,290.51 L514.17,292.51 L514.28,294.51 L514.38,296.5 L514.48,298.5 L514.58,300.5 L514.68,302.49 L514.78,304.49 L514.88,306.49 L514.98,308.48 L515.07,310.48 L515.17,312.48 L515.26,314.47 L515.36,316.47 L515.45,318.47 L515.55,320.46 L515.64,322.46 L515.74,324.46 L515.83,326.46 L515.92,328.45 L516.02,330.45 L516.11,332.45 L516.21,334.44 L516.3,336.44 L516.39,338.44 L516.48,340.43 L516.58,342.43 L516.67,344.43 L516.76,346.43 L516.85,348.42 L516.94,350.42 L517.03,352.42 L517.12,354.41 L517.21,356.41 L517.3,358.41 L517.39,360.41 L517.48,362.4 L517.57,364.4 L517.65,366.4 L517.74,368.39 L517.83,370.39 L517.91,372.39 L518.0,374.39 L518.08,376.38 L518.16,378.38 L518.24,380.38 L518.32,382.38 L518.4,384.37 L518.48,386.37 L518.55,388.37 L518.63,390.37 L518.7,392.37 L518.77,394.36 L518.84,396.36 L518.9,398.36 L518.97,400.36 L519.03,402.36 L519.09,404.35 L519.15,406.35 L519.2,408.35 L519.26,410.35 L519.31,412.35 L519.36,414.35 L519.41,416.35 L519.46,418.34 L519.51,420.34 L519.56,422.34 L519.6,424.34 L519.64,426.34 L519.68,428.34 L519.72,430.34 L519.76,432.34 L519.8,434.33 L519.83,436.33 L519.87,438.33 L519.9,440.33 L519.94,442.33 L519.97,444.33 L520.0,446.33 L520.04,448.33 L520.07,450.33 L520.1,452.32 L520.13,454.32 L520.17,456.32 L520.2,458.32 L520.23,460.32 L520.26,462.32 L520.3,464.32 L520.33,466.32 L520.36,468.32 L520.4,470.31 L520.43,472.31 L520.46,474.31 L520.5,476.31 L520.54,478.31 L520.57,480.31 L520.61,482.31 L520.65,484.31 L520.69,486.31 L520.73,488.3 L520.77,490.3 L520.82,492.3 L520.86,494.3 L520.91,496.3 L520.96,498.3 L521.01,500.3 L521.06,502.29 L521.11,504.29 L521.16,506.29 L521.21,508.29 L521.26,510.29 L521.31,512.29 L521.36,514.29 L521.41,516.28 L521.46,518.28 L521.51,520.28 L521.57,522.28 L521.62,524.28 L521.68,526.28 L521.73,528.28 L521.79,530.27 L521.85,532.27 L521.92,534.27 L521.99,536.27 L522.05,538.27 L522.13,540.26 L522.2,542.26 L522.28,544.26 L522.37,546.26 L522.46,548.25 L522.55,550.25 L522.65,552.25 L522.75,554.24 L522.86,556.24 L522.97,558.24 L523.08,560.23 L523.19,562.23 L523.3,564.23 L523.41,566.22 L523.52,568.22 L523.64,570.21 L523.75,572.21 L523.87,574.21 L523.99,576.2 L524.12,578.2 L524.25,580.19 L524.39,582.19 L524.53,584.18 L524.68,586.17 L524.84,588.17 L525.01,590.16 L525.19,592.15 L525.38,594.14 L525.59,596.13 L525.81,598.11 L526.05,600.1 L526.31,602.08 L526.59,604.06 L526.89,606.04 L527.18,608.01 L527.47,609.99 L527.76,611.97 L528.06,613.95 L528.39,615.92 L528.74,617.89 L529.13,619.85 L529.57,621.8 L530.09,623.73 L530.7,625.63 L531.42,627.5 L532.29,629.3 L533.3,631.02 L534.42,632.68 L535.65,634.25 L537.0,635.72 L538.49,637.05 L540.14,638.18 L541.97,638.99 L543.93,639.37 L545.92,639.34 L547.89,638.99 L549.81,638.33 L551.65,637.46 L553.43,636.47 L555.12,635.34 L556.73,634.11 L558.28,632.85 L559.81,631.58 L561.31,630.32 L562.81,629.06 L564.31,627.81 L565.81,626.57 L567.31,625.31 L568.81,624.04 L570.31,622.76 L571.79,621.46 L573.27,620.14 L574.74,618.8 L576.2,617.45 L577.65,616.08 L579.1,614.71 L580.54,613.33 L581.98,611.95 L583.42,610.56 L584.86,609.18 L586.3,607.8 L587.74,606.42 L589.19,605.05 L590.65,603.68 L592.11,602.33 L593.59,600.98 L595.07,599.65 L596.56,598.32 L598.07,597.01 L599.59,595.72 L601.12,594.44 L602.66,593.18 L604.21,591.93 L605.78,590.7 L607.36,589.48 L608.96,588.29 L610.56,587.11 L612.18,585.94 L613.81,584.8 L615.46,583.67 L617.11,582.55 L618.78,581.46 L620.45,580.38 L622.14,579.32 L623.84,578.27 L625.55,577.24 L627.26,576.22 L628.99,575.22 L630.72,574.23 L632.47,573.26 L634.22,572.3 L635.97,571.35 L637.74,570.42 L639.51,569.5 L641.29,568.6 L643.08,567.7 L644.87,566.82 L646.67,565.95 L648.47,565.1 L650.28,564.25 L652.1,563.42 L653.92,562.6 L655.74,561.79 L657.57,560.99 L659.4,560.19 L661.24,559.41 L663.08,558.63 L664.93,557.86 L666.77,557.1 L668.62,556.35 L670.48,555.61 L672.33,554.87 L674.19,554.15 L676.06,553.43 L677.92,552.73 L679.8,552.04 L681.67,551.37 L683.56,550.72 L685.44,550.09 L687.34,549.48 L689.24,548.89 L691.15,548.32 L693.06,547.78 L694.98,547.26 L696.91,546.77 L698.85,546.3 L700.79,545.85 L702.73,545.42 L704.68,545.01 L706.64,544.62 L708.6,544.25 L710.56,543.88 L712.52,543.53 L714.49,543.19 L716.46,542.85 L718.43,542.52 L720.4,542.2 L722.38,541.88 L724.35,541.55 L726.32,541.23 L728.29,540.91 L730.26,540.58 L732.24,540.25 L734.21,539.92 L736.18,539.59 L738.15,539.25 L740.12,538.91 L742.09,538.56 L744.05,538.21 L746.02,537.85 L747.98,537.5 L749.95,537.13 L751.91,536.77 L753.87,536.4 L755.82,536.04 L757.77,535.67 L759.71,535.3 L761.65,534.93 L763.57,534.56 L765.48,534.19 L767.38,533.82 L769.27,533.45 L771.17,533.09 L773.07,532.72 L774.98,532.34 L776.92,531.97 L778.9,531.58 L780.92,531.19 L782.98,530.79 L785.07,530.39 L787.15,529.99 L789.2,529.59 L790.2,529.4 L792.2,529.35 L794.2,529.31 L796.19,529.26 L798.19,529.22 L800.19,529.17 L802.19,529.13 L804.18,529.08 L806.18,529.03 L808.18,528.99 L810.18,528.94 L812.17,528.9 L814.17,528.85 L816.17,528.8 L818.17,528.76 L820.16,528.71 L822.16,528.67 L824.16,528.63 L826.16,528.58 L828.16,528.54 L830.15,528.5 L832.15,528.45 L834.15,528.41 L836.15,528.38 L838.14,528.34 L840.14,528.3 L842.14,528.26 L844.14,528.22 L846.14,528.19 L848.13,528.15 L850.13,528.12 L852.13,528.08 L854.13,528.04 L856.12,528.01 L858.12,527.97 L860.12,527.93 L862.12,527.89 L864.12,527.85 L866.11,527.81 L868.11,527.77 L870.11,527.73 L872.11,527.69 L874.1,527.64 L876.1,527.6 L878.1,527.55 L880.1,527.5 L882.09,527.44 L884.09,527.39 L886.09,527.33 L888.09,527.26 L890.08,527.2 L892.08,527.13 L894.08,527.06 L896.07,526.99 L898.07,526.92 L900.07,526.85 L902.06,526.78 L904.06,526.71 L906.06,526.64 L908.05,526.56 L910.05,526.49 L912.05,526.43 L914.05,526.36 L916.04,526.3 L918.04,526.24 L920.04,526.18 L922.04,526.13 L924.03,526.08 L926.03,526.03 L928.03,526.0 L930.03,525.97 L932.02,525.93 L934.02,525.88 L936.02,525.84 L938.02,525.8 L940.01,525.77 L942.01,525.75 L944.01,525.74 L946.01,525.75 L948.01,525.78 L950.0,525.83 L952.0,525.91 L954.0,526.0 L955.99,526.12 L957.98,526.28 L959.97,526.45 L961.96,526.65 L963.95,526.87 L965.93,527.09 L967.92,527.33 L969.9,527.58 L971.88,527.83 L973.87,528.08 L975.85,528.33 L977.83,528.57 L979.81,528.81 L981.8,529.05 L983.79,529.27 L985.77,529.48 L987.76,529.67 L989.75,529.84 L991.75,529.98 L993.74,530.11 L995.74,530.21 L997.73,530.3 L999.73,530.37 L1001.73,530.44 L1003.72,530.49 L1005.72,530.53 L1007.72,530.56 L1009.72,530.59 L1011.71,530.61 L1013.71,530.63 L1015.71,530.65 L1017.71,530.67 L1019.71,530.69 L1021.7,530.72 L1023.7,530.76 L1025.7,530.8 L1025.7,530.8 L1027,580 L1036,597 L1069,663.4"/>
<path stroke="#00f" d="M265.5,462 L265,437 M267,533 L266,515"/>
</g>
<g>
<text x="329" y="748" font-size="43" fill="#000" textLength="140" lengthAdjust="spacingAndGlyphs">Control</text>
<text x="328" y="801.5" font-size="43" fill="#f00" textLength="369" lengthAdjust="spacingAndGlyphs">90μM amitriptyline</text>
<text x="328" y="856" font-size="43" fill="#416cc6" textLength="171" lengthAdjust="spacingAndGlyphs">washout</text>
</g>
</svg>
</body></html>
